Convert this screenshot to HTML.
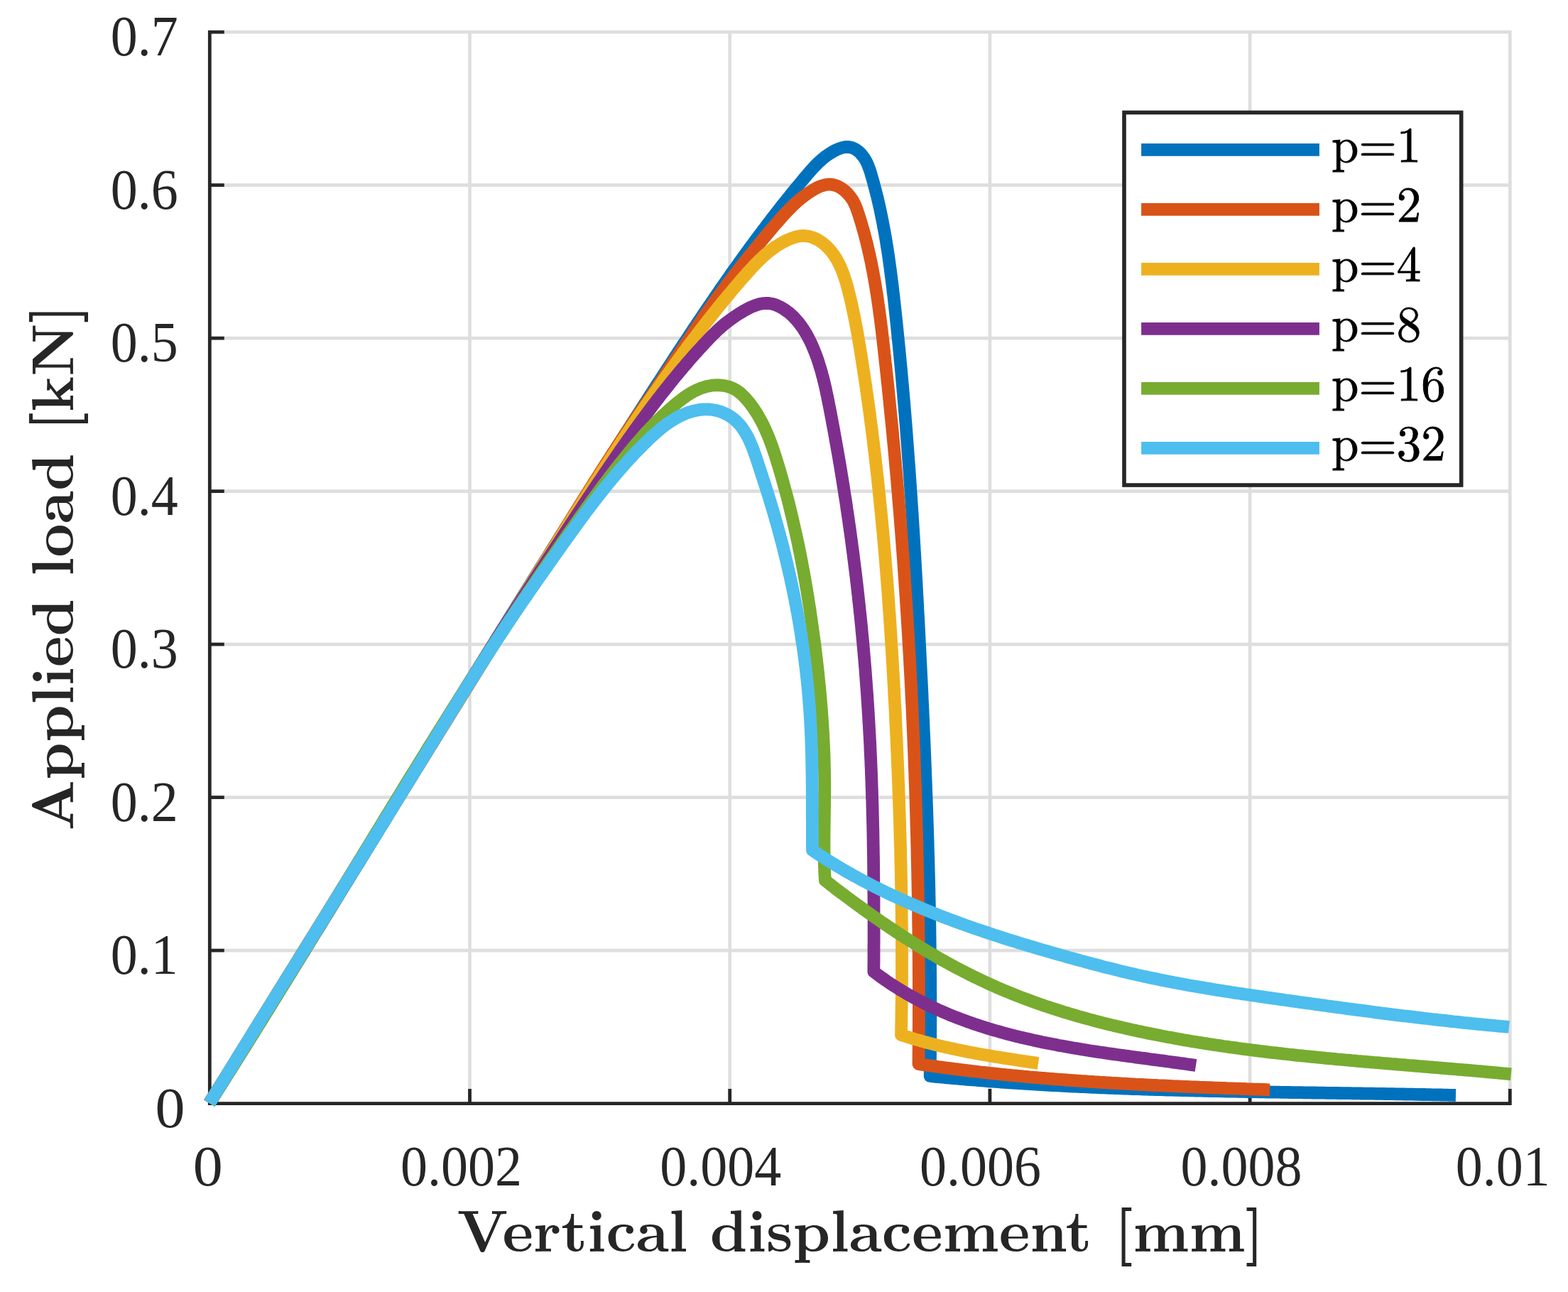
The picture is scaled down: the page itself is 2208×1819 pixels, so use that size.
<!DOCTYPE html><html><head><meta charset="utf-8"><title>Applied load vs vertical displacement</title>
<style>html,body{margin:0;padding:0;background:#fff;overflow:hidden}svg{display:block}</style></head><body>
<svg width="2208" height="1819" viewBox="0 0 2208 1819">
<rect width="2208" height="1819" fill="#fff"/>
<path d="M295.3,1338.1 H2128.7 M295.3,1122.6 H2128.7 M295.3,907.1 H2128.7 M295.3,691.6 H2128.7 M295.3,476.1 H2128.7 M295.3,260.6 H2128.7 M295.3,45.1 H2128.7 M661.5,1553.6 V42.7 M1027.7,1553.6 V42.7 M1393.9,1553.6 V42.7 M1760.1,1553.6 V42.7 M2126.3,1553.6 V42.7" stroke="#dedede" stroke-width="4.7" fill="none"/>
<path d="M295.3,42.7 V1556.0 M292.9,1553.6 H2128.7 M295.3,1553.6 H315.8 M295.3,1338.1 H315.8 M295.3,1122.6 H315.8 M295.3,907.1 H315.8 M295.3,691.6 H315.8 M295.3,476.1 H315.8 M295.3,260.6 H315.8 M295.3,45.1 H315.8 M295.3,1553.6 V1533.1 M661.5,1553.6 V1533.1 M1027.7,1553.6 V1533.1 M1393.9,1553.6 V1533.1 M1760.1,1553.6 V1533.1 M2126.3,1553.6 V1533.1" stroke="#262626" stroke-width="4.8" fill="none" stroke-linecap="butt"/>
<path d="M294.9,1553.1 L297.0,1549.7 L299.2,1546.3 L301.3,1542.9 L303.5,1539.5 L305.6,1536.1 L307.7,1532.7 L309.9,1529.4 L312.0,1526.0 L314.1,1522.6 L316.3,1519.2 L318.4,1515.8 L320.5,1512.4 L322.7,1509.0 L324.8,1505.6 L326.9,1502.2 L329.0,1498.8 L331.2,1495.4 L333.3,1492.0 L335.4,1488.6 L337.6,1485.2 L339.7,1481.8 L341.8,1478.4 L343.9,1475.0 L346.1,1471.6 L348.2,1468.2 L350.3,1464.8 L352.4,1461.4 L354.6,1458.0 L356.7,1454.6 L358.8,1451.2 L360.9,1447.8 L363.0,1444.4 L365.2,1441.0 L367.3,1437.6 L369.4,1434.2 L371.5,1430.8 L373.6,1427.4 L375.8,1424.0 L377.9,1420.6 L380.0,1417.2 L382.1,1413.8 L384.2,1410.4 L386.3,1407.0 L388.5,1403.5 L390.6,1400.1 L392.7,1396.7 L394.8,1393.3 L396.9,1389.9 L399.0,1386.5 L401.2,1383.1 L403.3,1379.7 L405.4,1376.3 L407.5,1372.9 L409.6,1369.5 L411.7,1366.1 L413.8,1362.7 L415.9,1359.2 L418.0,1355.8 L420.2,1352.4 L422.3,1349.0 L424.4,1345.6 L426.5,1342.2 L428.6,1338.8 L430.7,1335.4 L432.8,1332.0 L434.9,1328.6 L437.0,1325.1 L439.1,1321.7 L441.2,1318.3 L443.3,1314.9 L445.5,1311.5 L447.6,1308.1 L449.7,1304.7 L451.8,1301.3 L453.9,1297.8 L456.0,1294.4 L458.1,1291.0 L460.2,1287.6 L462.3,1284.2 L464.4,1280.8 L466.5,1277.4 L468.6,1273.9 L470.7,1270.5 L472.8,1267.1 L474.9,1263.7 L477.0,1260.3 L479.1,1256.9 L481.2,1253.5 L483.3,1250.0 L485.4,1246.6 L487.5,1243.2 L489.6,1239.8 L491.7,1236.4 L493.8,1233.0 L495.9,1229.5 L498.0,1226.1 L500.1,1222.7 L502.2,1219.3 L504.4,1215.9 L506.5,1212.5 L508.6,1209.0 L510.7,1205.6 L512.8,1202.2 L514.9,1198.8 L517.0,1195.4 L519.1,1192.0 L521.2,1188.5 L523.3,1185.1 L525.4,1181.7 L527.5,1178.3 L529.6,1174.9 L531.7,1171.5 L533.8,1168.0 L535.9,1164.6 L538.0,1161.2 L540.1,1157.8 L542.2,1154.4 L544.3,1151.0 L546.4,1147.5 L548.5,1144.1 L550.6,1140.7 L552.6,1137.3 L554.7,1133.9 L556.8,1130.4 L558.9,1127.0 L561.0,1123.6 L563.1,1120.2 L565.2,1116.8 L567.3,1113.4 L569.4,1109.9 L571.5,1106.5 L573.6,1103.1 L575.7,1099.7 L577.8,1096.3 L579.9,1092.9 L582.0,1089.4 L584.1,1086.0 L586.2,1082.6 L588.3,1079.2 L590.4,1075.8 L592.5,1072.4 L594.6,1068.9 L596.7,1065.5 L598.8,1062.1 L600.9,1058.7 L603.0,1055.3 L605.1,1051.9 L607.3,1048.4 L609.4,1045.0 L611.5,1041.6 L613.6,1038.2 L615.7,1034.8 L617.8,1031.4 L619.9,1027.9 L622.0,1024.5 L624.1,1021.1 L626.2,1017.7 L628.3,1014.3 L630.4,1010.9 L632.5,1007.4 L634.6,1004.0 L636.7,1000.6 L638.8,997.2 L640.9,993.8 L643.0,990.4 L645.1,987.0 L647.2,983.5 L649.3,980.1 L651.4,976.7 L653.5,973.3 L655.6,969.9 L657.7,966.5 L659.8,963.1 L661.9,959.6 L664.0,956.2 L666.2,952.8 L668.3,949.4 L670.4,946.0 L672.5,942.6 L674.6,939.2 L676.7,935.8 L678.8,932.3 L680.9,928.9 L683.0,925.5 L685.1,922.1 L687.2,918.7 L689.4,915.3 L691.5,911.9 L693.6,908.5 L695.7,905.1 L697.8,901.7 L699.9,898.2 L702.0,894.8 L704.1,891.4 L706.2,888.0 L708.4,884.6 L710.5,881.2 L712.6,877.8 L714.7,874.4 L716.8,871.0 L718.9,867.6 L721.0,864.2 L723.2,860.8 L725.3,857.4 L727.4,853.9 L729.5,850.5 L731.6,847.1 L733.8,843.7 L735.9,840.3 L738.0,836.9 L740.1,833.5 L742.2,830.1 L744.3,826.7 L746.5,823.3 L748.6,819.9 L750.7,816.5 L752.8,813.1 L755.0,809.7 L757.1,806.3 L759.2,802.9 L761.3,799.5 L763.5,796.1 L765.6,792.7 L767.7,789.3 L769.8,785.9 L772.0,782.5 L774.1,779.1 L776.2,775.7 L778.3,772.3 L780.5,768.9 L782.6,765.5 L784.7,762.1 L786.9,758.7 L789.0,755.3 L791.1,751.9 L793.3,748.5 L795.4,745.1 L797.5,741.7 L799.7,738.3 L801.8,734.9 L803.9,731.5 L806.1,728.2 L808.2,724.8 L810.4,721.4 L812.5,718.0 L814.6,714.6 L816.8,711.2 L818.9,707.8 L821.1,704.4 L823.2,701.0 L825.3,697.6 L827.5,694.2 L829.6,690.9 L831.8,687.5 L833.9,684.1 L836.1,680.7 L838.2,677.3 L840.4,673.9 L842.5,670.5 L844.6,667.1 L846.8,663.8 L848.9,660.4 L851.1,657.0 L853.2,653.6 L855.4,650.2 L857.6,646.8 L859.7,643.5 L861.9,640.1 L864.0,636.7 L866.2,633.3 L868.3,629.9 L870.5,626.6 L872.6,623.2 L874.8,619.8 L877.0,616.4 L879.1,613.1 L881.3,609.7 L883.5,606.3 L885.6,602.9 L887.8,599.6 L889.9,596.2 L892.1,592.8 L894.3,589.4 L896.4,586.1 L898.6,582.7 L900.8,579.3 L903.0,575.9 L905.1,572.6 L907.3,569.2 L909.5,565.8 L911.6,562.5 L913.8,559.1 L916.0,555.7 L918.2,552.4 L920.3,549.0 L922.5,545.6 L924.7,542.3 L926.9,538.9 L929.1,535.5 L931.2,532.2 L933.4,528.8 L935.6,525.5 L937.8,522.1 L940.0,518.7 L942.2,515.4 L944.4,512.0 L946.5,508.7 L948.7,505.3 L950.9,501.9 L953.1,498.6 L955.3,495.2 L957.5,491.9 L959.7,488.5 L961.9,485.2 L964.1,481.8 L966.4,478.5 L968.6,475.2 L970.8,471.8 L973.0,468.5 L975.2,465.1 L977.4,461.8 L979.7,458.5 L981.9,455.1 L984.1,451.8 L986.4,448.5 L988.6,445.2 L990.8,441.8 L993.1,438.5 L995.3,435.2 L997.6,431.9 L999.8,428.6 L1002.1,425.3 L1004.4,422.0 L1006.6,418.6 L1008.9,415.3 L1011.2,412.0 L1013.4,408.7 L1015.7,405.4 L1018.0,402.2 L1020.3,398.9 L1022.6,395.6 L1024.9,392.3 L1027.2,389.0 L1029.5,385.7 L1031.8,382.5 L1034.1,379.2 L1036.5,375.9 L1038.8,372.7 L1041.1,369.4 L1043.5,366.2 L1045.8,362.9 L1048.2,359.7 L1050.5,356.4 L1052.9,353.2 L1055.2,349.9 L1057.6,346.7 L1060.0,343.5 L1062.4,340.2 L1064.7,337.0 L1067.1,333.8 L1069.5,330.6 L1072.0,327.4 L1074.4,324.2 L1076.8,321.0 L1079.2,317.8 L1081.6,314.6 L1084.1,311.4 L1086.5,308.2 L1089.0,305.0 L1091.4,301.9 L1093.9,298.7 L1096.4,295.5 L1098.9,292.4 L1101.3,289.2 L1103.8,286.1 L1106.3,282.9 L1108.8,279.8 L1111.4,276.7 L1113.9,273.5 L1116.4,270.4 L1119.0,267.3 L1121.5,264.2 L1124.1,261.1 L1126.6,258.0 L1129.2,254.9 L1131.8,251.8 L1134.4,248.7 L1137.0,245.6 L1139.6,242.6 L1142.2,239.6 L1144.9,236.6 L1147.7,233.7 L1150.5,230.8 L1153.4,228.1 L1156.3,225.4 L1159.4,222.8 L1162.5,220.3 L1165.8,218.0 L1169.1,215.7 L1172.6,213.7 L1176.3,211.7 L1180.0,210.0 L1183.8,208.5 L1187.7,207.5 L1191.5,206.9 L1195.3,207.0 L1198.9,207.7 L1202.4,209.0 L1205.7,210.8 L1208.8,213.1 L1211.7,215.8 L1214.3,218.8 L1216.7,222.0 L1218.8,225.4 L1220.7,229.0 L1222.3,232.6 L1223.7,236.4 L1225.1,240.2 L1226.3,244.1 L1227.4,248.1 L1228.6,252.0 L1229.7,255.9 L1230.7,259.8 L1231.8,263.8 L1232.8,267.7 L1233.8,271.6 L1234.8,275.5 L1235.8,279.5 L1236.7,283.4 L1237.6,287.3 L1238.5,291.3 L1239.4,295.2 L1240.2,299.2 L1241.0,303.1 L1241.8,307.1 L1242.6,311.0 L1243.4,315.0 L1244.1,318.9 L1244.9,322.9 L1245.6,326.8 L1246.3,330.8 L1247.0,334.7 L1247.7,338.7 L1248.3,342.6 L1248.9,346.6 L1249.6,350.5 L1250.2,354.5 L1250.8,358.5 L1251.4,362.4 L1251.9,366.4 L1252.5,370.4 L1253.0,374.3 L1253.6,378.3 L1254.1,382.3 L1254.6,386.2 L1255.1,390.2 L1255.6,394.2 L1256.1,398.1 L1256.6,402.1 L1257.1,406.1 L1257.5,410.1 L1258.0,414.0 L1258.5,418.0 L1258.9,422.0 L1259.4,426.0 L1259.8,430.0 L1260.2,433.9 L1260.7,437.9 L1261.1,441.9 L1261.5,445.9 L1261.9,449.9 L1262.4,453.8 L1262.8,457.8 L1263.2,461.8 L1263.6,465.8 L1264.0,469.8 L1264.4,473.7 L1264.8,477.7 L1265.2,481.7 L1265.6,485.7 L1266.0,489.7 L1266.4,493.7 L1266.8,497.7 L1267.2,501.6 L1267.5,505.6 L1267.9,509.6 L1268.3,513.6 L1268.7,517.6 L1269.0,521.6 L1269.4,525.6 L1269.8,529.6 L1270.1,533.6 L1270.5,537.6 L1270.8,541.5 L1271.2,545.5 L1271.5,549.5 L1271.9,553.5 L1272.2,557.5 L1272.6,561.5 L1272.9,565.5 L1273.3,569.5 L1273.6,573.5 L1273.9,577.5 L1274.3,581.5 L1274.6,585.5 L1274.9,589.5 L1275.2,593.5 L1275.6,597.5 L1275.9,601.5 L1276.2,605.5 L1276.5,609.5 L1276.8,613.5 L1277.1,617.5 L1277.4,621.5 L1277.7,625.5 L1278.0,629.5 L1278.3,633.5 L1278.6,637.4 L1278.9,641.4 L1279.2,645.5 L1279.5,649.5 L1279.8,653.5 L1280.1,657.5 L1280.4,661.5 L1280.7,665.5 L1281.0,669.5 L1281.2,673.5 L1281.5,677.5 L1281.8,681.5 L1282.1,685.5 L1282.3,689.5 L1282.6,693.5 L1282.9,697.5 L1283.2,701.5 L1283.4,705.5 L1283.7,709.5 L1283.9,713.5 L1284.2,717.5 L1284.5,721.5 L1284.7,725.5 L1285.0,729.5 L1285.2,733.5 L1285.5,737.5 L1285.7,741.5 L1286.0,745.5 L1286.2,749.5 L1286.5,753.5 L1286.7,757.5 L1287.0,761.6 L1287.2,765.6 L1287.5,769.6 L1287.7,773.6 L1287.9,777.6 L1288.2,781.6 L1288.4,785.6 L1288.6,789.6 L1288.9,793.6 L1289.1,797.6 L1289.3,801.6 L1289.6,805.6 L1289.8,809.6 L1290.0,813.6 L1290.2,817.6 L1290.5,821.6 L1290.7,825.7 L1290.9,829.7 L1291.1,833.7 L1291.3,837.7 L1291.6,841.7 L1291.8,845.7 L1292.0,849.7 L1292.2,853.7 L1292.4,857.7 L1292.6,861.7 L1292.8,865.7 L1293.1,869.7 L1293.3,873.7 L1293.5,877.7 L1293.7,881.8 L1293.9,885.8 L1294.1,889.8 L1294.3,893.8 L1294.5,897.8 L1294.7,901.8 L1294.9,905.8 L1295.1,909.8 L1295.3,913.8 L1295.5,917.8 L1295.7,921.8 L1295.9,925.8 L1296.1,929.8 L1296.3,933.8 L1296.5,937.8 L1296.7,941.8 L1296.9,945.8 L1297.1,949.9 L1297.3,953.9 L1297.5,957.9 L1297.7,961.9 L1297.9,965.9 L1298.1,969.9 L1298.3,973.9 L1298.5,977.9 L1298.6,981.9 L1298.8,985.9 L1299.0,989.9 L1299.2,993.9 L1299.4,997.9 L1299.6,1001.9 L1299.7,1005.9 L1299.9,1009.9 L1300.1,1013.9 L1300.3,1017.9 L1300.5,1021.9 L1300.6,1026.0 L1300.8,1030.0 L1301.0,1034.0 L1301.2,1038.0 L1301.3,1042.0 L1301.5,1046.0 L1301.7,1050.0 L1301.8,1054.0 L1302.0,1058.0 L1302.2,1062.0 L1302.3,1066.0 L1302.5,1070.0 L1302.6,1074.0 L1302.8,1078.0 L1303.0,1082.0 L1303.1,1086.0 L1303.3,1090.0 L1303.4,1094.0 L1303.6,1098.0 L1303.7,1102.0 L1303.9,1106.0 L1304.0,1110.1 L1304.2,1114.1 L1304.3,1118.1 L1304.5,1122.1 L1304.6,1126.1 L1304.8,1130.1 L1304.9,1134.1 L1305.0,1138.1 L1305.2,1142.1 L1305.3,1146.1 L1305.4,1150.1 L1305.6,1154.1 L1305.7,1158.1 L1305.8,1162.1 L1306.0,1166.1 L1306.1,1170.1 L1306.2,1174.1 L1306.3,1178.1 L1306.5,1182.1 L1306.6,1186.2 L1306.7,1190.2 L1306.8,1194.2 L1306.9,1198.2 L1307.0,1202.2 L1307.2,1206.2 L1307.3,1210.2 L1307.4,1214.2 L1307.5,1218.2 L1307.6,1222.2 L1307.7,1226.2 L1307.8,1230.2 L1307.9,1234.2 L1308.0,1238.2 L1308.1,1242.2 L1308.2,1246.2 L1308.3,1250.3 L1308.4,1254.3 L1308.4,1258.3 L1308.5,1262.3 L1308.6,1266.3 L1308.7,1270.3 L1308.8,1274.3 L1308.9,1278.3 L1308.9,1282.3 L1309.0,1286.3 L1309.1,1290.3 L1309.2,1294.3 L1309.2,1298.3 L1309.3,1302.4 L1309.4,1306.4 L1309.4,1310.4 L1309.5,1314.4 L1309.5,1318.4 L1309.6,1322.4 L1309.6,1326.4 L1309.7,1330.4 L1309.7,1334.4 L1309.8,1338.4 L1309.8,1342.4 L1309.9,1346.5 L1309.9,1350.5 L1310.0,1354.5 L1310.0,1358.5 L1310.0,1362.5 L1310.1,1366.5 L1310.1,1370.5 L1310.1,1374.5 L1310.2,1378.5 L1310.2,1382.5 L1310.2,1386.6 L1310.2,1390.6 L1310.2,1394.6 L1310.3,1398.6 L1310.3,1402.6 L1310.3,1406.6 L1310.3,1410.6 L1310.3,1414.6 L1310.3,1418.6 L1310.3,1422.7 L1310.3,1426.7 L1310.3,1430.7 L1310.3,1434.7 L1310.3,1438.7 L1310.3,1442.7 L1310.2,1446.7 L1310.2,1450.8 L1310.2,1454.8 L1310.2,1458.8 L1310.2,1462.8 L1310.1,1466.8 L1310.1,1470.8 L1310.1,1474.8 L1310.0,1478.9 L1310.0,1482.9 L1310.0,1486.9 L1309.9,1490.9 L1309.9,1494.9 L1309.8,1498.9 L1309.8,1502.9 L1309.7,1507.0 L1309.7,1511.0 L1309.6,1515.0 L1309.6,1515.0 L1313.6,1515.4 L1317.6,1515.8 L1321.6,1516.2 L1325.6,1516.5 L1329.7,1516.9 L1333.7,1517.3 L1337.7,1517.7 L1341.7,1518.0 L1345.7,1518.4 L1349.7,1518.7 L1353.7,1519.1 L1357.7,1519.4 L1361.8,1519.8 L1365.8,1520.1 L1369.8,1520.4 L1373.8,1520.7 L1377.8,1521.1 L1381.8,1521.4 L1385.8,1521.7 L1389.9,1522.0 L1393.9,1522.3 L1397.9,1522.6 L1401.9,1522.9 L1405.9,1523.2 L1409.9,1523.5 L1414.0,1523.8 L1418.0,1524.0 L1422.0,1524.3 L1426.0,1524.6 L1430.0,1524.9 L1434.0,1525.1 L1438.1,1525.4 L1442.1,1525.6 L1446.1,1525.9 L1450.1,1526.1 L1454.1,1526.4 L1458.2,1526.6 L1462.2,1526.9 L1466.2,1527.1 L1470.2,1527.3 L1474.2,1527.6 L1478.3,1527.8 L1482.3,1528.0 L1486.3,1528.2 L1490.3,1528.4 L1494.3,1528.7 L1498.4,1528.9 L1502.4,1529.1 L1506.4,1529.3 L1510.4,1529.5 L1514.5,1529.7 L1518.5,1529.9 L1522.5,1530.0 L1526.5,1530.2 L1530.5,1530.4 L1534.6,1530.6 L1538.6,1530.8 L1542.6,1530.9 L1546.6,1531.1 L1550.7,1531.3 L1554.7,1531.4 L1558.7,1531.6 L1562.7,1531.8 L1566.8,1531.9 L1570.8,1532.1 L1574.8,1532.2 L1578.8,1532.4 L1582.9,1532.5 L1586.9,1532.7 L1590.9,1532.8 L1594.9,1533.0 L1599.0,1533.1 L1603.0,1533.2 L1607.0,1533.4 L1611.0,1533.5 L1615.1,1533.6 L1619.1,1533.8 L1623.1,1533.9 L1627.1,1534.0 L1631.2,1534.1 L1635.2,1534.2 L1639.2,1534.4 L1643.2,1534.5 L1647.3,1534.6 L1651.3,1534.7 L1655.3,1534.8 L1659.4,1534.9 L1663.4,1535.0 L1667.4,1535.1 L1671.4,1535.2 L1675.5,1535.3 L1679.5,1535.4 L1683.5,1535.5 L1687.5,1535.6 L1691.6,1535.7 L1695.6,1535.8 L1699.6,1535.9 L1703.7,1536.0 L1707.7,1536.1 L1711.7,1536.1 L1715.7,1536.2 L1719.8,1536.3 L1723.8,1536.4 L1727.8,1536.5 L1731.8,1536.5 L1735.9,1536.6 L1739.9,1536.7 L1743.9,1536.8 L1748.0,1536.9 L1752.0,1536.9 L1756.0,1537.0 L1760.0,1537.1 L1764.1,1537.1 L1768.1,1537.2 L1772.1,1537.3 L1776.2,1537.3 L1780.2,1537.4 L1784.2,1537.5 L1788.2,1537.5 L1792.3,1537.6 L1796.3,1537.7 L1800.3,1537.7 L1804.4,1537.8 L1808.4,1537.9 L1812.4,1537.9 L1816.4,1538.0 L1820.5,1538.1 L1824.5,1538.1 L1828.5,1538.2 L1832.6,1538.2 L1836.6,1538.3 L1840.6,1538.4 L1844.6,1538.4 L1848.7,1538.5 L1852.7,1538.5 L1856.7,1538.6 L1860.8,1538.7 L1864.8,1538.7 L1868.8,1538.8 L1872.8,1538.8 L1876.9,1538.9 L1880.9,1538.9 L1884.9,1539.0 L1889.0,1539.1 L1893.0,1539.1 L1897.0,1539.2 L1901.0,1539.2 L1905.1,1539.3 L1909.1,1539.4 L1913.1,1539.4 L1917.1,1539.5 L1921.2,1539.6 L1925.2,1539.6 L1929.2,1539.7 L1933.3,1539.7 L1937.3,1539.8 L1941.3,1539.9 L1945.3,1539.9 L1949.4,1540.0 L1953.4,1540.1 L1957.4,1540.1 L1961.4,1540.2 L1965.5,1540.3 L1969.5,1540.4 L1973.5,1540.4 L1977.6,1540.5 L1981.6,1540.6 L1985.6,1540.6 L1989.6,1540.7 L1993.7,1540.8 L1997.7,1540.9 L2001.7,1541.0 L2005.7,1541.0 L2009.8,1541.1 L2013.8,1541.2 L2017.8,1541.3 L2021.8,1541.4 L2025.9,1541.4 L2029.9,1541.5 L2033.9,1541.6 L2037.9,1541.7 L2042.0,1541.8 L2046.0,1541.9 L2050.0,1542.0" stroke="#0072bd" stroke-width="17.8" fill="none" stroke-linejoin="round" stroke-linecap="butt"/>
<path d="M294.9,1553.1 L297.0,1549.7 L299.1,1546.3 L301.2,1542.9 L303.3,1539.5 L305.4,1536.0 L307.5,1532.6 L309.6,1529.2 L311.7,1525.8 L313.8,1522.4 L316.0,1519.0 L318.1,1515.6 L320.2,1512.2 L322.3,1508.8 L324.4,1505.4 L326.5,1502.0 L328.6,1498.5 L330.7,1495.1 L332.8,1491.7 L334.9,1488.3 L337.0,1484.9 L339.1,1481.5 L341.2,1478.1 L343.3,1474.7 L345.5,1471.3 L347.6,1467.9 L349.7,1464.5 L351.8,1461.1 L353.9,1457.7 L356.0,1454.2 L358.1,1450.8 L360.2,1447.4 L362.3,1444.0 L364.4,1440.6 L366.5,1437.2 L368.6,1433.8 L370.8,1430.4 L372.9,1427.0 L375.0,1423.6 L377.1,1420.2 L379.2,1416.8 L381.3,1413.4 L383.4,1410.0 L385.5,1406.5 L387.6,1403.1 L389.7,1399.7 L391.8,1396.3 L394.0,1392.9 L396.1,1389.5 L398.2,1386.1 L400.3,1382.7 L402.4,1379.3 L404.5,1375.9 L406.6,1372.5 L408.7,1369.1 L410.8,1365.7 L413.0,1362.3 L415.1,1358.9 L417.2,1355.5 L419.3,1352.1 L421.4,1348.6 L423.5,1345.2 L425.6,1341.8 L427.7,1338.4 L429.8,1335.0 L431.9,1331.6 L434.1,1328.2 L436.2,1324.8 L438.3,1321.4 L440.4,1318.0 L442.5,1314.6 L444.6,1311.2 L446.7,1307.8 L448.8,1304.4 L451.0,1301.0 L453.1,1297.6 L455.2,1294.2 L457.3,1290.8 L459.4,1287.4 L461.5,1284.0 L463.6,1280.5 L465.7,1277.1 L467.8,1273.7 L470.0,1270.3 L472.1,1266.9 L474.2,1263.5 L476.3,1260.1 L478.4,1256.7 L480.5,1253.3 L482.6,1249.9 L484.7,1246.5 L486.9,1243.1 L489.0,1239.7 L491.1,1236.3 L493.2,1232.9 L495.3,1229.5 L497.4,1226.1 L499.5,1222.7 L501.6,1219.3 L503.8,1215.9 L505.9,1212.5 L508.0,1209.1 L510.1,1205.7 L512.2,1202.3 L514.3,1198.8 L516.4,1195.4 L518.5,1192.0 L520.7,1188.6 L522.8,1185.2 L524.9,1181.8 L527.0,1178.4 L529.1,1175.0 L531.2,1171.6 L533.3,1168.2 L535.4,1164.8 L537.6,1161.4 L539.7,1158.0 L541.8,1154.6 L543.9,1151.2 L546.0,1147.8 L548.1,1144.4 L550.2,1141.0 L552.3,1137.6 L554.5,1134.2 L556.6,1130.8 L558.7,1127.4 L560.8,1124.0 L562.9,1120.6 L565.0,1117.2 L567.1,1113.7 L569.2,1110.3 L571.4,1106.9 L573.5,1103.5 L575.6,1100.1 L577.7,1096.7 L579.8,1093.3 L581.9,1089.9 L584.0,1086.5 L586.1,1083.1 L588.3,1079.7 L590.4,1076.3 L592.5,1072.9 L594.6,1069.5 L596.7,1066.1 L598.8,1062.7 L600.9,1059.3 L603.0,1055.9 L605.2,1052.5 L607.3,1049.1 L609.4,1045.7 L611.5,1042.3 L613.6,1038.9 L615.7,1035.5 L617.8,1032.0 L619.9,1028.6 L622.1,1025.2 L624.2,1021.8 L626.3,1018.4 L628.4,1015.0 L630.5,1011.6 L632.6,1008.2 L634.7,1004.8 L636.8,1001.4 L639.0,998.0 L641.1,994.6 L643.2,991.2 L645.3,987.8 L647.4,984.4 L649.5,981.0 L651.6,977.6 L653.7,974.2 L655.8,970.8 L658.0,967.4 L660.1,963.9 L662.2,960.5 L664.3,957.1 L666.4,953.7 L668.5,950.3 L670.6,946.9 L672.7,943.5 L674.8,940.1 L676.9,936.7 L679.1,933.3 L681.2,929.9 L683.3,926.5 L685.4,923.1 L687.5,919.7 L689.6,916.3 L691.7,912.9 L693.8,909.4 L695.9,906.0 L698.1,902.6 L700.2,899.2 L702.3,895.8 L704.4,892.4 L706.5,889.0 L708.6,885.6 L710.7,882.2 L712.8,878.8 L714.9,875.4 L717.0,872.0 L719.1,868.6 L721.3,865.2 L723.4,861.7 L725.5,858.3 L727.6,854.9 L729.7,851.5 L731.8,848.1 L733.9,844.7 L736.0,841.3 L738.1,837.9 L740.2,834.5 L742.3,831.1 L744.4,827.7 L746.5,824.3 L748.7,820.8 L750.8,817.4 L752.9,814.0 L755.0,810.6 L757.1,807.2 L759.2,803.8 L761.3,800.4 L763.4,797.0 L765.5,793.6 L767.6,790.2 L769.7,786.8 L771.8,783.3 L773.9,779.9 L776.0,776.5 L778.1,773.1 L780.3,769.7 L782.4,766.3 L784.5,762.9 L786.6,759.5 L788.7,756.1 L790.8,752.7 L792.9,749.2 L795.0,745.8 L797.1,742.4 L799.2,739.0 L801.3,735.6 L803.4,732.2 L805.6,728.8 L807.7,725.4 L809.8,722.0 L811.9,718.6 L814.0,715.2 L816.1,711.8 L818.3,708.4 L820.4,705.0 L822.5,701.6 L824.6,698.2 L826.8,694.8 L828.9,691.4 L831.0,688.0 L833.2,684.6 L835.3,681.2 L837.4,677.9 L839.6,674.5 L841.7,671.1 L843.9,667.7 L846.0,664.3 L848.2,660.9 L850.3,657.6 L852.5,654.2 L854.7,650.8 L856.8,647.5 L859.0,644.1 L861.2,640.7 L863.3,637.4 L865.5,634.0 L867.7,630.6 L869.9,627.3 L872.1,623.9 L874.3,620.6 L876.5,617.2 L878.7,613.9 L880.9,610.6 L883.1,607.2 L885.3,603.9 L887.5,600.5 L889.7,597.2 L892.0,593.9 L894.2,590.6 L896.4,587.3 L898.7,583.9 L900.9,580.6 L903.2,577.3 L905.4,574.0 L907.7,570.7 L909.9,567.4 L912.2,564.1 L914.5,560.8 L916.8,557.5 L919.1,554.2 L921.3,550.9 L923.6,547.7 L925.8,544.3 L928.0,541.0 L930.2,537.7 L932.4,534.3 L934.5,531.0 L936.6,527.6 L938.7,524.2 L940.9,520.9 L943.1,517.6 L945.3,514.3 L947.5,511.0 L949.8,507.7 L952.1,504.4 L954.3,501.1 L956.6,497.8 L958.8,494.5 L961.1,491.2 L963.3,487.9 L965.5,484.5 L967.7,481.2 L970.0,477.8 L972.2,474.5 L974.4,471.1 L976.6,467.8 L978.8,464.4 L981.1,461.1 L983.3,457.7 L985.5,454.4 L987.8,451.1 L990.0,447.7 L992.3,444.4 L994.6,441.1 L996.9,437.8 L999.1,434.5 L1001.5,431.3 L1003.8,428.0 L1006.1,424.7 L1008.4,421.5 L1010.8,418.2 L1013.1,415.0 L1015.5,411.8 L1017.9,408.6 L1020.3,405.3 L1022.6,402.1 L1025.0,398.9 L1027.5,395.8 L1029.9,392.6 L1032.3,389.4 L1034.7,386.2 L1037.2,383.1 L1039.6,379.9 L1042.1,376.8 L1044.6,373.6 L1047.0,370.5 L1049.5,367.3 L1052.0,364.2 L1054.5,361.1 L1057.0,358.0 L1059.6,354.9 L1062.1,351.8 L1064.6,348.7 L1067.2,345.6 L1069.7,342.5 L1072.3,339.4 L1074.8,336.3 L1077.4,333.2 L1080.0,330.2 L1082.5,327.1 L1085.1,324.0 L1087.7,321.0 L1090.3,317.9 L1092.9,314.9 L1095.6,311.8 L1098.2,308.8 L1100.9,305.8 L1103.6,302.8 L1106.3,299.8 L1109.1,296.9 L1111.9,294.0 L1114.7,291.2 L1117.6,288.4 L1120.6,285.7 L1123.6,283.0 L1126.7,280.4 L1129.8,277.9 L1133.0,275.4 L1136.3,273.0 L1139.7,270.7 L1143.2,268.5 L1146.8,266.4 L1150.4,264.4 L1154.1,262.7 L1157.8,261.3 L1161.6,260.3 L1165.4,259.7 L1169.2,259.6 L1173.0,260.1 L1176.7,261.1 L1180.4,262.6 L1184.0,264.5 L1187.4,266.9 L1190.7,269.6 L1193.7,272.6 L1196.5,275.9 L1199.1,279.3 L1201.3,282.8 L1203.2,286.5 L1204.9,290.2 L1206.4,294.0 L1207.7,297.8 L1209.0,301.6 L1210.2,305.4 L1211.4,309.2 L1212.6,313.1 L1213.7,316.9 L1214.8,320.8 L1215.9,324.6 L1217.0,328.5 L1218.0,332.4 L1219.0,336.2 L1220.0,340.1 L1221.0,344.0 L1221.9,347.9 L1222.8,351.8 L1223.7,355.7 L1224.6,359.6 L1225.4,363.5 L1226.3,367.4 L1227.1,371.3 L1227.8,375.2 L1228.6,379.1 L1229.4,383.1 L1230.1,387.0 L1230.8,390.9 L1231.5,394.9 L1232.2,398.8 L1232.9,402.8 L1233.5,406.7 L1234.1,410.6 L1234.8,414.6 L1235.4,418.6 L1236.0,422.5 L1236.5,426.5 L1237.1,430.4 L1237.7,434.4 L1238.2,438.4 L1238.7,442.3 L1239.3,446.3 L1239.8,450.3 L1240.3,454.3 L1240.8,458.2 L1241.3,462.2 L1241.8,466.2 L1242.2,470.2 L1242.7,474.1 L1243.2,478.1 L1243.6,482.1 L1244.1,486.1 L1244.5,490.1 L1245.0,494.1 L1245.4,498.0 L1245.9,502.0 L1246.3,506.0 L1246.7,510.0 L1247.2,514.0 L1247.6,518.0 L1248.0,522.0 L1248.5,525.9 L1248.9,529.9 L1249.3,533.9 L1249.7,537.9 L1250.2,541.9 L1250.6,545.9 L1251.0,549.9 L1251.4,553.9 L1251.8,557.8 L1252.2,561.8 L1252.6,565.8 L1253.0,569.8 L1253.4,573.8 L1253.8,577.8 L1254.2,581.8 L1254.6,585.8 L1255.0,589.7 L1255.4,593.7 L1255.8,597.7 L1256.2,601.7 L1256.6,605.7 L1257.0,609.7 L1257.3,613.7 L1257.7,617.7 L1258.1,621.7 L1258.5,625.6 L1258.9,629.6 L1259.2,633.6 L1259.6,637.6 L1260.0,641.6 L1260.3,645.6 L1260.7,649.6 L1261.0,653.6 L1261.4,657.6 L1261.8,661.6 L1262.1,665.6 L1262.5,669.6 L1262.8,673.5 L1263.2,677.5 L1263.5,681.5 L1263.9,685.5 L1264.2,689.5 L1264.5,693.5 L1264.9,697.5 L1265.2,701.5 L1265.5,705.5 L1265.9,709.5 L1266.2,713.5 L1266.5,717.5 L1266.9,721.5 L1267.2,725.4 L1267.5,729.4 L1267.8,733.4 L1268.1,737.4 L1268.5,741.4 L1268.8,745.4 L1269.1,749.4 L1269.4,753.4 L1269.7,757.4 L1270.0,761.4 L1270.3,765.4 L1270.6,769.4 L1270.9,773.4 L1271.2,777.4 L1271.5,781.4 L1271.8,785.4 L1272.1,789.4 L1272.4,793.4 L1272.7,797.4 L1272.9,801.4 L1273.2,805.4 L1273.5,809.3 L1273.8,813.3 L1274.1,817.3 L1274.3,821.3 L1274.6,825.3 L1274.9,829.3 L1275.1,833.3 L1275.4,837.3 L1275.7,841.3 L1275.9,845.3 L1276.2,849.3 L1276.5,853.3 L1276.7,857.3 L1277.0,861.3 L1277.2,865.3 L1277.5,869.3 L1277.7,873.3 L1278.0,877.3 L1278.2,881.3 L1278.5,885.3 L1278.7,889.3 L1278.9,893.3 L1279.2,897.3 L1279.4,901.3 L1279.6,905.3 L1279.9,909.3 L1280.1,913.3 L1280.3,917.3 L1280.6,921.3 L1280.8,925.3 L1281.0,929.3 L1281.2,933.3 L1281.4,937.3 L1281.6,941.3 L1281.9,945.3 L1282.1,949.3 L1282.3,953.3 L1282.5,957.3 L1282.7,961.3 L1282.9,965.3 L1283.1,969.3 L1283.3,973.3 L1283.5,977.3 L1283.7,981.3 L1283.9,985.3 L1284.1,989.3 L1284.3,993.3 L1284.5,997.3 L1284.6,1001.3 L1284.8,1005.3 L1285.0,1009.3 L1285.2,1013.3 L1285.4,1017.3 L1285.5,1021.3 L1285.7,1025.3 L1285.9,1029.3 L1286.1,1033.3 L1286.2,1037.3 L1286.4,1041.3 L1286.6,1045.3 L1286.7,1049.3 L1286.9,1053.3 L1287.1,1057.3 L1287.2,1061.3 L1287.4,1065.3 L1287.5,1069.4 L1287.7,1073.4 L1287.8,1077.4 L1288.0,1081.4 L1288.1,1085.4 L1288.3,1089.4 L1288.4,1093.4 L1288.5,1097.4 L1288.7,1101.4 L1288.8,1105.4 L1289.0,1109.4 L1289.1,1113.4 L1289.2,1117.4 L1289.4,1121.4 L1289.5,1125.4 L1289.6,1129.4 L1289.7,1133.4 L1289.9,1137.4 L1290.0,1141.4 L1290.1,1145.4 L1290.2,1149.4 L1290.3,1153.4 L1290.4,1157.4 L1290.5,1161.4 L1290.7,1165.4 L1290.8,1169.5 L1290.9,1173.5 L1291.0,1177.5 L1291.1,1181.5 L1291.2,1185.5 L1291.3,1189.5 L1291.4,1193.5 L1291.5,1197.5 L1291.6,1201.5 L1291.6,1205.5 L1291.7,1209.5 L1291.8,1213.5 L1291.9,1217.5 L1292.0,1221.5 L1292.1,1225.5 L1292.2,1229.5 L1292.2,1233.5 L1292.3,1237.5 L1292.4,1241.5 L1292.5,1245.6 L1292.5,1249.6 L1292.6,1253.6 L1292.7,1257.6 L1292.7,1261.6 L1292.8,1265.6 L1292.9,1269.6 L1292.9,1273.6 L1293.0,1277.6 L1293.0,1281.6 L1293.1,1285.6 L1293.1,1289.6 L1293.2,1293.6 L1293.2,1297.6 L1293.3,1301.6 L1293.3,1305.6 L1293.4,1309.7 L1293.4,1313.7 L1293.5,1317.7 L1293.5,1321.7 L1293.5,1325.7 L1293.6,1329.7 L1293.6,1333.7 L1293.6,1337.7 L1293.7,1341.7 L1293.7,1345.7 L1293.7,1349.7 L1293.8,1353.7 L1293.8,1357.7 L1293.8,1361.7 L1293.8,1365.8 L1293.8,1369.8 L1293.9,1373.8 L1293.9,1377.8 L1293.9,1381.8 L1293.9,1385.8 L1293.9,1389.8 L1293.9,1393.8 L1293.9,1397.8 L1293.9,1401.8 L1293.9,1405.8 L1293.9,1409.8 L1293.9,1413.8 L1293.9,1417.8 L1293.9,1421.9 L1293.9,1425.9 L1293.9,1429.9 L1293.9,1433.9 L1293.9,1437.9 L1293.9,1441.9 L1293.8,1445.9 L1293.8,1449.9 L1293.8,1453.9 L1293.8,1457.9 L1293.8,1461.9 L1293.7,1465.9 L1293.7,1469.9 L1293.7,1474.0 L1293.7,1478.0 L1293.6,1482.0 L1293.6,1486.0 L1293.6,1490.0 L1293.5,1494.0 L1293.5,1498.0 L1293.5,1498.0 L1297.5,1498.6 L1301.5,1499.2 L1305.5,1499.8 L1309.5,1500.3 L1313.5,1500.9 L1317.5,1501.4 L1321.5,1502.0 L1325.5,1502.5 L1329.5,1503.1 L1333.5,1503.6 L1337.5,1504.1 L1341.5,1504.6 L1345.5,1505.2 L1349.5,1505.7 L1353.5,1506.2 L1357.5,1506.6 L1361.5,1507.1 L1365.5,1507.6 L1369.5,1508.1 L1373.5,1508.5 L1377.5,1509.0 L1381.5,1509.5 L1385.5,1509.9 L1389.5,1510.3 L1393.5,1510.8 L1397.5,1511.2 L1401.5,1511.6 L1405.6,1512.1 L1409.6,1512.5 L1413.6,1512.9 L1417.6,1513.3 L1421.6,1513.7 L1425.6,1514.1 L1429.6,1514.4 L1433.6,1514.8 L1437.7,1515.2 L1441.7,1515.6 L1445.7,1515.9 L1449.7,1516.3 L1453.7,1516.6 L1457.7,1517.0 L1461.8,1517.3 L1465.8,1517.7 L1469.8,1518.0 L1473.8,1518.3 L1477.8,1518.7 L1481.9,1519.0 L1485.9,1519.3 L1489.9,1519.6 L1493.9,1519.9 L1497.9,1520.2 L1502.0,1520.5 L1506.0,1520.8 L1510.0,1521.1 L1514.0,1521.4 L1518.1,1521.7 L1522.1,1522.0 L1526.1,1522.2 L1530.1,1522.5 L1534.2,1522.8 L1538.2,1523.0 L1542.2,1523.3 L1546.2,1523.5 L1550.3,1523.8 L1554.3,1524.0 L1558.3,1524.3 L1562.3,1524.5 L1566.4,1524.8 L1570.4,1525.0 L1574.4,1525.2 L1578.4,1525.5 L1582.5,1525.7 L1586.5,1525.9 L1590.5,1526.1 L1594.6,1526.3 L1598.6,1526.6 L1602.6,1526.8 L1606.6,1527.0 L1610.7,1527.2 L1614.7,1527.4 L1618.7,1527.6 L1622.8,1527.8 L1626.8,1528.0 L1630.8,1528.2 L1634.9,1528.3 L1638.9,1528.5 L1642.9,1528.7 L1646.9,1528.9 L1651.0,1529.1 L1655.0,1529.3 L1659.0,1529.4 L1663.1,1529.6 L1667.1,1529.8 L1671.1,1529.9 L1675.2,1530.1 L1679.2,1530.3 L1683.2,1530.4 L1687.2,1530.6 L1691.3,1530.8 L1695.3,1530.9 L1699.3,1531.1 L1703.4,1531.2 L1707.4,1531.4 L1711.4,1531.6 L1715.5,1531.7 L1719.5,1531.9 L1723.5,1532.0 L1727.6,1532.2 L1731.6,1532.3 L1735.6,1532.4 L1739.6,1532.6 L1743.7,1532.7 L1747.7,1532.9 L1751.7,1533.0 L1755.8,1533.2 L1759.8,1533.3 L1763.8,1533.5 L1767.9,1533.6 L1771.9,1533.7 L1775.9,1533.9 L1779.9,1534.0 L1784.0,1534.2 L1788.0,1534.3" stroke="#d95319" stroke-width="17.8" fill="none" stroke-linejoin="round" stroke-linecap="butt"/>
<path d="M294.9,1553.1 L297.0,1549.7 L299.1,1546.3 L301.3,1542.9 L303.4,1539.5 L305.5,1536.1 L307.6,1532.7 L309.7,1529.3 L311.9,1525.9 L314.0,1522.5 L316.1,1519.1 L318.2,1515.6 L320.3,1512.2 L322.5,1508.8 L324.6,1505.4 L326.7,1502.0 L328.8,1498.6 L330.9,1495.2 L333.0,1491.8 L335.2,1488.4 L337.3,1485.0 L339.4,1481.6 L341.5,1478.2 L343.6,1474.8 L345.7,1471.4 L347.9,1468.0 L350.0,1464.6 L352.1,1461.1 L354.2,1457.7 L356.3,1454.3 L358.4,1450.9 L360.5,1447.5 L362.7,1444.1 L364.8,1440.7 L366.9,1437.3 L369.0,1433.9 L371.1,1430.5 L373.2,1427.1 L375.3,1423.7 L377.4,1420.3 L379.6,1416.8 L381.7,1413.4 L383.8,1410.0 L385.9,1406.6 L388.0,1403.2 L390.1,1399.8 L392.2,1396.4 L394.3,1393.0 L396.4,1389.6 L398.6,1386.2 L400.7,1382.8 L402.8,1379.4 L404.9,1375.9 L407.0,1372.5 L409.1,1369.1 L411.2,1365.7 L413.3,1362.3 L415.4,1358.9 L417.5,1355.5 L419.7,1352.1 L421.8,1348.7 L423.9,1345.3 L426.0,1341.8 L428.1,1338.4 L430.2,1335.0 L432.3,1331.6 L434.4,1328.2 L436.5,1324.8 L438.6,1321.4 L440.7,1318.0 L442.8,1314.6 L444.9,1311.2 L447.1,1307.7 L449.2,1304.3 L451.3,1300.9 L453.4,1297.5 L455.5,1294.1 L457.6,1290.7 L459.7,1287.3 L461.8,1283.9 L463.9,1280.5 L466.0,1277.1 L468.1,1273.6 L470.2,1270.2 L472.3,1266.8 L474.5,1263.4 L476.6,1260.0 L478.7,1256.6 L480.8,1253.2 L482.9,1249.8 L485.0,1246.4 L487.1,1243.0 L489.2,1239.5 L491.3,1236.1 L493.4,1232.7 L495.5,1229.3 L497.6,1225.9 L499.7,1222.5 L501.8,1219.1 L503.9,1215.7 L506.0,1212.3 L508.2,1208.9 L510.3,1205.4 L512.4,1202.0 L514.5,1198.6 L516.6,1195.2 L518.7,1191.8 L520.8,1188.4 L522.9,1185.0 L525.0,1181.6 L527.1,1178.2 L529.2,1174.7 L531.3,1171.3 L533.4,1167.9 L535.5,1164.5 L537.6,1161.1 L539.8,1157.7 L541.9,1154.3 L544.0,1150.9 L546.1,1147.5 L548.2,1144.1 L550.3,1140.6 L552.4,1137.2 L554.5,1133.8 L556.6,1130.4 L558.7,1127.0 L560.8,1123.6 L562.9,1120.2 L565.0,1116.8 L567.1,1113.4 L569.2,1110.0 L571.4,1106.5 L573.5,1103.1 L575.6,1099.7 L577.7,1096.3 L579.8,1092.9 L581.9,1089.5 L584.0,1086.1 L586.1,1082.7 L588.2,1079.3 L590.3,1075.9 L592.4,1072.5 L594.5,1069.0 L596.7,1065.6 L598.8,1062.2 L600.9,1058.8 L603.0,1055.4 L605.1,1052.0 L607.2,1048.6 L609.3,1045.2 L611.4,1041.8 L613.5,1038.4 L615.6,1035.0 L617.8,1031.5 L619.9,1028.1 L622.0,1024.7 L624.1,1021.3 L626.2,1017.9 L628.3,1014.5 L630.4,1011.1 L632.5,1007.7 L634.6,1004.3 L636.8,1000.9 L638.9,997.5 L641.0,994.1 L643.1,990.6 L645.2,987.2 L647.3,983.8 L649.4,980.4 L651.5,977.0 L653.7,973.6 L655.8,970.2 L657.9,966.8 L660.0,963.4 L662.1,960.0 L664.2,956.6 L666.3,953.2 L668.4,949.8 L670.6,946.4 L672.7,943.0 L674.8,939.5 L676.9,936.1 L679.0,932.7 L681.1,929.3 L683.3,925.9 L685.4,922.5 L687.5,919.1 L689.6,915.7 L691.7,912.3 L693.8,908.9 L696.0,905.5 L698.1,902.1 L700.2,898.7 L702.3,895.3 L704.4,891.9 L706.6,888.5 L708.7,885.1 L710.8,881.7 L712.9,878.3 L715.0,874.9 L717.2,871.5 L719.3,868.0 L721.4,864.6 L723.5,861.2 L725.6,857.8 L727.8,854.4 L729.9,851.0 L732.0,847.6 L734.1,844.2 L736.3,840.8 L738.4,837.4 L740.5,834.0 L742.6,830.6 L744.8,827.2 L746.9,823.8 L749.0,820.4 L751.1,817.0 L753.3,813.6 L755.4,810.2 L757.5,806.8 L759.6,803.4 L761.8,800.0 L763.9,796.6 L766.0,793.2 L768.1,789.8 L770.3,786.4 L772.4,783.0 L774.5,779.6 L776.7,776.2 L778.8,772.8 L780.9,769.4 L783.1,766.0 L785.2,762.6 L787.3,759.2 L789.5,755.8 L791.6,752.4 L793.7,749.0 L795.9,745.6 L798.0,742.2 L800.1,738.8 L802.3,735.4 L804.4,732.1 L806.5,728.7 L808.7,725.3 L810.8,721.9 L813.0,718.5 L815.1,715.1 L817.3,711.7 L819.4,708.3 L821.6,704.9 L823.7,701.6 L825.9,698.2 L828.0,694.8 L830.2,691.4 L832.3,688.0 L834.5,684.7 L836.7,681.3 L838.8,677.9 L841.0,674.5 L843.2,671.2 L845.3,667.8 L847.5,664.4 L849.7,661.0 L851.9,657.7 L854.1,654.3 L856.2,651.0 L858.4,647.6 L860.6,644.2 L862.8,640.9 L865.0,637.5 L867.2,634.2 L869.4,630.8 L871.6,627.5 L873.8,624.1 L876.0,620.8 L878.2,617.4 L880.4,614.1 L882.6,610.8 L884.9,607.4 L887.1,604.1 L889.3,600.8 L891.5,597.4 L893.8,594.1 L896.0,590.8 L898.2,587.5 L900.5,584.2 L902.7,580.8 L905.0,577.5 L907.2,574.2 L909.5,570.9 L911.7,567.6 L914.0,564.3 L916.3,561.0 L918.6,557.7 L920.8,554.4 L923.1,551.1 L925.4,547.9 L927.7,544.6 L930.0,541.3 L932.3,538.0 L934.6,534.7 L936.9,531.5 L939.2,528.2 L941.6,525.0 L943.9,521.7 L946.2,518.5 L948.6,515.2 L950.9,512.0 L953.3,508.7 L955.6,505.5 L958.0,502.3 L960.4,499.0 L962.7,495.8 L965.1,492.6 L967.5,489.4 L969.9,486.2 L972.3,483.0 L974.7,479.8 L977.1,476.6 L979.6,473.4 L982.0,470.2 L984.4,467.0 L986.9,463.8 L989.3,460.7 L991.8,457.5 L994.2,454.3 L996.7,451.2 L999.2,448.0 L1001.7,444.9 L1004.2,441.7 L1006.7,438.6 L1009.2,435.5 L1011.7,432.3 L1014.3,429.2 L1016.8,426.1 L1019.4,423.0 L1021.9,419.9 L1024.5,416.8 L1027.1,413.7 L1029.7,410.6 L1032.2,407.5 L1034.8,404.5 L1037.5,401.4 L1040.1,398.4 L1042.7,395.3 L1045.4,392.2 L1048.0,389.2 L1050.7,386.2 L1053.3,383.2 L1056.0,380.2 L1058.8,377.2 L1061.5,374.2 L1064.3,371.3 L1067.1,368.5 L1070.0,365.7 L1072.9,362.9 L1075.8,360.2 L1078.8,357.6 L1081.9,355.0 L1085.0,352.5 L1088.2,350.2 L1091.5,347.8 L1094.9,345.6 L1098.3,343.5 L1101.8,341.5 L1105.4,339.6 L1109.1,337.8 L1112.8,336.2 L1116.7,334.8 L1120.5,333.6 L1124.4,332.7 L1128.3,332.2 L1132.2,332.0 L1136.0,332.3 L1139.8,333.0 L1143.5,334.0 L1147.1,335.4 L1150.7,337.1 L1154.1,339.1 L1157.3,341.3 L1160.5,343.8 L1163.5,346.4 L1166.3,349.2 L1168.9,352.1 L1171.4,355.1 L1173.8,358.3 L1176.0,361.6 L1178.0,364.9 L1180.0,368.4 L1181.8,372.0 L1183.5,375.6 L1185.1,379.3 L1186.6,383.1 L1188.0,387.0 L1189.3,390.8 L1190.6,394.8 L1191.8,398.7 L1192.9,402.7 L1194.0,406.7 L1195.0,410.7 L1196.0,414.7 L1197.0,418.7 L1198.0,422.7 L1198.9,426.7 L1199.8,430.7 L1200.6,434.7 L1201.5,438.7 L1202.3,442.6 L1203.1,446.6 L1203.9,450.6 L1204.7,454.5 L1205.4,458.5 L1206.2,462.4 L1206.9,466.3 L1207.6,470.3 L1208.3,474.2 L1209.0,478.2 L1209.6,482.1 L1210.3,486.0 L1211.0,490.0 L1211.6,493.9 L1212.2,497.8 L1212.9,501.8 L1213.5,505.7 L1214.1,509.6 L1214.7,513.6 L1215.3,517.5 L1215.9,521.5 L1216.5,525.4 L1217.1,529.4 L1217.7,533.3 L1218.3,537.3 L1218.9,541.2 L1219.5,545.2 L1220.0,549.1 L1220.6,553.1 L1221.2,557.0 L1221.7,561.0 L1222.3,564.9 L1222.8,568.9 L1223.4,572.8 L1223.9,576.8 L1224.5,580.8 L1225.0,584.7 L1225.5,588.7 L1226.0,592.7 L1226.5,596.6 L1227.1,600.6 L1227.6,604.6 L1228.1,608.5 L1228.6,612.5 L1229.1,616.5 L1229.6,620.4 L1230.0,624.4 L1230.5,628.4 L1231.0,632.3 L1231.5,636.3 L1232.0,640.3 L1232.4,644.3 L1232.9,648.3 L1233.3,652.2 L1233.8,656.2 L1234.2,660.2 L1234.7,664.2 L1235.1,668.2 L1235.6,672.1 L1236.0,676.1 L1236.4,680.1 L1236.9,684.1 L1237.3,688.1 L1237.7,692.1 L1238.1,696.0 L1238.5,700.0 L1238.9,704.0 L1239.3,708.0 L1239.7,712.0 L1240.1,716.0 L1240.5,720.0 L1240.9,724.0 L1241.3,728.0 L1241.7,732.0 L1242.1,736.0 L1242.4,739.9 L1242.8,743.9 L1243.2,747.9 L1243.6,751.9 L1243.9,755.9 L1244.3,759.9 L1244.6,763.9 L1245.0,767.9 L1245.3,771.9 L1245.7,775.9 L1246.0,779.9 L1246.4,783.9 L1246.7,787.9 L1247.0,791.9 L1247.3,795.9 L1247.7,799.9 L1248.0,803.9 L1248.3,807.9 L1248.6,811.9 L1248.9,815.9 L1249.3,819.9 L1249.6,823.9 L1249.9,827.9 L1250.2,831.9 L1250.5,836.0 L1250.8,840.0 L1251.1,844.0 L1251.3,848.0 L1251.6,852.0 L1251.9,856.0 L1252.2,860.0 L1252.5,864.0 L1252.8,868.0 L1253.0,872.0 L1253.3,876.0 L1253.6,880.0 L1253.8,884.0 L1254.1,888.0 L1254.4,892.0 L1254.6,896.0 L1254.9,900.1 L1255.1,904.1 L1255.4,908.1 L1255.6,912.1 L1255.9,916.1 L1256.1,920.1 L1256.4,924.1 L1256.6,928.1 L1256.8,932.1 L1257.1,936.1 L1257.3,940.1 L1257.5,944.1 L1257.8,948.1 L1258.0,952.2 L1258.2,956.2 L1258.4,960.2 L1258.7,964.2 L1258.9,968.2 L1259.1,972.2 L1259.3,976.2 L1259.5,980.2 L1259.7,984.2 L1259.9,988.2 L1260.1,992.2 L1260.4,996.2 L1260.6,1000.2 L1260.8,1004.2 L1261.0,1008.2 L1261.1,1012.2 L1261.3,1016.2 L1261.5,1020.3 L1261.7,1024.3 L1261.9,1028.3 L1262.1,1032.3 L1262.3,1036.3 L1262.5,1040.3 L1262.7,1044.3 L1262.8,1048.3 L1263.0,1052.3 L1263.2,1056.3 L1263.4,1060.3 L1263.5,1064.3 L1263.7,1068.3 L1263.9,1072.3 L1264.0,1076.3 L1264.2,1080.3 L1264.4,1084.3 L1264.5,1088.3 L1264.7,1092.3 L1264.8,1096.3 L1265.0,1100.3 L1265.2,1104.3 L1265.3,1108.3 L1265.5,1112.3 L1265.6,1116.3 L1265.7,1120.3 L1265.9,1124.3 L1266.0,1128.3 L1266.2,1132.3 L1266.3,1136.3 L1266.4,1140.3 L1266.6,1144.3 L1266.7,1148.3 L1266.8,1152.3 L1266.9,1156.3 L1267.1,1160.3 L1267.2,1164.3 L1267.3,1168.3 L1267.4,1172.3 L1267.5,1176.3 L1267.6,1180.3 L1267.7,1184.3 L1267.8,1188.3 L1268.0,1192.3 L1268.1,1196.3 L1268.2,1200.3 L1268.2,1204.3 L1268.3,1208.3 L1268.4,1212.3 L1268.5,1216.3 L1268.6,1220.3 L1268.7,1224.3 L1268.8,1228.3 L1268.9,1232.3 L1268.9,1236.3 L1269.0,1240.4 L1269.1,1244.4 L1269.1,1248.4 L1269.2,1252.4 L1269.3,1256.4 L1269.3,1260.4 L1269.4,1264.4 L1269.5,1268.4 L1269.5,1272.4 L1269.6,1276.4 L1269.6,1280.4 L1269.7,1284.4 L1269.7,1288.4 L1269.7,1292.4 L1269.8,1296.4 L1269.8,1300.4 L1269.8,1304.4 L1269.9,1308.4 L1269.9,1312.4 L1269.9,1316.5 L1270.0,1320.5 L1270.0,1324.5 L1270.0,1328.5 L1270.0,1332.5 L1270.0,1336.5 L1270.0,1340.5 L1270.0,1344.5 L1270.0,1348.5 L1270.0,1352.5 L1270.0,1356.6 L1270.0,1360.6 L1270.0,1364.6 L1270.0,1368.6 L1270.0,1372.6 L1270.0,1376.6 L1269.9,1380.6 L1269.9,1384.6 L1269.9,1388.7 L1269.9,1392.7 L1269.8,1396.7 L1269.8,1400.7 L1269.8,1404.7 L1269.7,1408.7 L1269.7,1412.8 L1269.6,1416.8 L1269.6,1420.8 L1269.5,1424.8 L1269.5,1428.8 L1269.4,1432.9 L1269.4,1436.9 L1269.3,1440.9 L1269.2,1444.9 L1269.2,1449.0 L1269.1,1453.0 L1269.0,1457.0 L1269.0,1457.0 L1272.9,1458.3 L1276.8,1459.5 L1280.8,1460.8 L1284.7,1462.0 L1288.7,1463.2 L1292.6,1464.3 L1296.6,1465.4 L1300.5,1466.5 L1304.5,1467.6 L1308.5,1468.7 L1312.5,1469.7 L1316.4,1470.7 L1320.4,1471.7 L1324.4,1472.6 L1328.4,1473.6 L1332.4,1474.5 L1336.4,1475.4 L1340.5,1476.3 L1344.5,1477.1 L1348.5,1478.0 L1352.5,1478.8 L1356.5,1479.6 L1360.6,1480.4 L1364.6,1481.2 L1368.6,1482.0 L1372.7,1482.7 L1376.7,1483.5 L1380.8,1484.2 L1384.8,1484.9 L1388.9,1485.6 L1392.9,1486.3 L1397.0,1487.0 L1401.0,1487.7 L1405.1,1488.3 L1409.2,1489.0 L1413.2,1489.6 L1417.3,1490.3 L1421.4,1490.9 L1425.4,1491.5 L1429.5,1492.1 L1433.5,1492.8 L1437.6,1493.4 L1441.7,1494.0 L1445.7,1494.6 L1449.8,1495.2 L1453.9,1495.8 L1457.9,1496.4 L1462.0,1497.0" stroke="#edb120" stroke-width="17.8" fill="none" stroke-linejoin="round" stroke-linecap="butt"/>
<path d="M294.9,1553.1 L297.0,1549.7 L299.2,1546.3 L301.3,1542.9 L303.5,1539.6 L305.6,1536.2 L307.7,1532.8 L309.9,1529.4 L312.0,1526.0 L314.2,1522.6 L316.3,1519.2 L318.4,1515.8 L320.6,1512.4 L322.7,1509.0 L324.8,1505.6 L327.0,1502.2 L329.1,1498.9 L331.2,1495.5 L333.3,1492.1 L335.5,1488.7 L337.6,1485.3 L339.7,1481.9 L341.8,1478.5 L344.0,1475.1 L346.1,1471.7 L348.2,1468.3 L350.3,1464.9 L352.4,1461.5 L354.6,1458.1 L356.7,1454.7 L358.8,1451.3 L360.9,1447.9 L363.0,1444.5 L365.2,1441.1 L367.3,1437.7 L369.4,1434.2 L371.5,1430.8 L373.6,1427.4 L375.7,1424.0 L377.8,1420.6 L379.9,1417.2 L382.1,1413.8 L384.2,1410.4 L386.3,1407.0 L388.4,1403.6 L390.5,1400.2 L392.6,1396.8 L394.7,1393.4 L396.8,1390.0 L398.9,1386.5 L401.0,1383.1 L403.1,1379.7 L405.2,1376.3 L407.3,1372.9 L409.4,1369.5 L411.5,1366.1 L413.6,1362.7 L415.7,1359.3 L417.8,1355.8 L419.9,1352.4 L422.0,1349.0 L424.1,1345.6 L426.2,1342.2 L428.3,1338.8 L430.4,1335.4 L432.5,1331.9 L434.6,1328.5 L436.7,1325.1 L438.8,1321.7 L440.9,1318.3 L443.0,1314.9 L445.1,1311.4 L447.2,1308.0 L449.3,1304.6 L451.4,1301.2 L453.5,1297.8 L455.6,1294.4 L457.7,1290.9 L459.8,1287.5 L461.9,1284.1 L464.0,1280.7 L466.1,1277.3 L468.2,1273.9 L470.3,1270.4 L472.4,1267.0 L474.5,1263.6 L476.5,1260.2 L478.6,1256.8 L480.7,1253.4 L482.8,1249.9 L484.9,1246.5 L487.0,1243.1 L489.1,1239.7 L491.2,1236.3 L493.3,1232.8 L495.4,1229.4 L497.5,1226.0 L499.6,1222.6 L501.7,1219.2 L503.8,1215.8 L505.8,1212.3 L507.9,1208.9 L510.0,1205.5 L512.1,1202.1 L514.2,1198.7 L516.3,1195.2 L518.4,1191.8 L520.5,1188.4 L522.6,1185.0 L524.7,1181.6 L526.8,1178.2 L528.9,1174.7 L531.0,1171.3 L533.1,1167.9 L535.2,1164.5 L537.3,1161.1 L539.3,1157.7 L541.4,1154.2 L543.5,1150.8 L545.6,1147.4 L547.7,1144.0 L549.8,1140.6 L551.9,1137.2 L554.0,1133.7 L556.1,1130.3 L558.2,1126.9 L560.3,1123.5 L562.4,1120.1 L564.5,1116.7 L566.6,1113.2 L568.7,1109.8 L570.8,1106.4 L572.9,1103.0 L575.0,1099.6 L577.1,1096.2 L579.2,1092.8 L581.3,1089.3 L583.4,1085.9 L585.5,1082.5 L587.6,1079.1 L589.7,1075.7 L591.8,1072.3 L593.9,1068.9 L596.0,1065.5 L598.1,1062.1 L600.2,1058.6 L602.3,1055.2 L604.4,1051.8 L606.6,1048.4 L608.7,1045.0 L610.8,1041.6 L612.9,1038.2 L615.0,1034.8 L617.1,1031.4 L619.2,1028.0 L621.3,1024.6 L623.4,1021.2 L625.5,1017.7 L627.7,1014.3 L629.8,1010.9 L631.9,1007.5 L634.0,1004.1 L636.1,1000.7 L638.2,997.3 L640.4,993.9 L642.5,990.5 L644.6,987.1 L646.7,983.7 L648.8,980.3 L651.0,976.9 L653.1,973.5 L655.2,970.1 L657.3,966.7 L659.4,963.3 L661.6,959.9 L663.7,956.5 L665.8,953.1 L668.0,949.7 L670.1,946.3 L672.2,942.9 L674.3,939.6 L676.5,936.2 L678.6,932.8 L680.7,929.4 L682.9,926.0 L685.0,922.6 L687.1,919.2 L689.3,915.8 L691.4,912.4 L693.6,909.0 L695.7,905.6 L697.8,902.3 L700.0,898.9 L702.1,895.5 L704.3,892.1 L706.4,888.7 L708.6,885.3 L710.7,881.9 L712.9,878.6 L715.0,875.2 L717.2,871.8 L719.3,868.4 L721.5,865.0 L723.6,861.7 L725.8,858.3 L727.9,854.9 L730.1,851.5 L732.3,848.2 L734.4,844.8 L736.6,841.4 L738.7,838.0 L740.9,834.7 L743.1,831.3 L745.2,827.9 L747.4,824.5 L749.6,821.2 L751.7,817.8 L753.9,814.4 L756.1,811.1 L758.3,807.7 L760.4,804.3 L762.6,801.0 L764.8,797.6 L767.0,794.3 L769.2,790.9 L771.3,787.5 L773.5,784.2 L775.7,780.8 L777.9,777.5 L780.1,774.1 L782.3,770.7 L784.5,767.4 L786.7,764.0 L788.9,760.7 L791.1,757.3 L793.3,754.0 L795.5,750.6 L797.7,747.3 L799.9,743.9 L802.1,740.6 L804.3,737.2 L806.5,733.9 L808.7,730.5 L810.9,727.2 L813.1,723.9 L815.3,720.5 L817.5,717.2 L819.8,713.8 L822.0,710.5 L824.2,707.2 L826.4,703.8 L828.6,700.5 L830.9,697.2 L833.1,693.8 L835.3,690.5 L837.5,687.2 L839.8,683.8 L842.0,680.5 L844.3,677.2 L846.5,673.9 L848.7,670.5 L851.0,667.2 L853.2,663.9 L855.5,660.6 L857.7,657.3 L860.0,654.0 L862.3,650.7 L864.5,647.4 L866.8,644.0 L869.1,640.7 L871.3,637.5 L873.6,634.2 L875.9,630.9 L878.2,627.6 L880.5,624.3 L882.8,621.0 L885.1,617.8 L887.4,614.5 L889.8,611.2 L892.1,608.0 L894.4,604.7 L896.8,601.5 L899.1,598.2 L901.5,595.0 L903.8,591.7 L906.2,588.5 L908.6,585.3 L911.0,582.1 L913.4,578.8 L915.8,575.6 L918.2,572.4 L920.6,569.2 L923.0,566.1 L925.4,562.9 L927.9,559.7 L930.3,556.5 L932.8,553.4 L935.3,550.2 L937.8,547.1 L940.3,543.9 L942.8,540.8 L945.3,537.7 L947.8,534.6 L950.3,531.5 L952.9,528.4 L955.4,525.3 L958.0,522.2 L960.6,519.2 L963.2,516.1 L965.8,513.1 L968.4,510.0 L971.0,507.0 L973.6,504.0 L976.3,501.0 L978.9,498.0 L981.6,495.1 L984.3,492.1 L987.0,489.2 L989.7,486.2 L992.4,483.3 L995.2,480.4 L997.9,477.5 L1000.7,474.6 L1003.5,471.8 L1006.3,469.0 L1009.1,466.2 L1012.0,463.5 L1015.0,460.8 L1018.0,458.2 L1021.0,455.7 L1024.2,453.2 L1027.4,450.8 L1030.7,448.5 L1034.0,446.1 L1037.4,443.9 L1041.0,441.6 L1044.6,439.4 L1048.2,437.2 L1052.0,435.1 L1055.8,433.2 L1059.6,431.5 L1063.5,429.9 L1067.3,428.7 L1071.2,427.7 L1075.1,427.1 L1079.0,426.9 L1082.8,427.0 L1086.6,427.7 L1090.4,428.7 L1094.1,430.0 L1097.6,431.7 L1101.1,433.5 L1104.5,435.6 L1107.7,437.8 L1110.8,440.1 L1113.8,442.7 L1116.6,445.3 L1119.4,448.2 L1122.0,451.1 L1124.6,454.1 L1127.0,457.3 L1129.4,460.6 L1131.6,463.9 L1133.8,467.4 L1135.9,470.9 L1137.8,474.5 L1139.7,478.2 L1141.6,481.9 L1143.3,485.7 L1144.9,489.4 L1146.5,493.3 L1148.0,497.1 L1149.5,500.9 L1150.9,504.8 L1152.2,508.6 L1153.4,512.5 L1154.6,516.4 L1155.8,520.2 L1156.9,524.1 L1157.9,528.0 L1159.0,531.8 L1159.9,535.7 L1160.9,539.6 L1161.8,543.5 L1162.7,547.3 L1163.5,551.2 L1164.3,555.1 L1165.2,559.0 L1165.9,562.9 L1166.7,566.8 L1167.5,570.7 L1168.3,574.6 L1169.0,578.5 L1169.8,582.4 L1170.5,586.3 L1171.3,590.2 L1172.0,594.1 L1172.7,598.1 L1173.5,602.0 L1174.2,605.9 L1174.9,609.8 L1175.6,613.7 L1176.3,617.6 L1177.0,621.6 L1177.7,625.5 L1178.4,629.4 L1179.1,633.4 L1179.8,637.3 L1180.5,641.2 L1181.2,645.2 L1181.8,649.1 L1182.5,653.0 L1183.2,657.0 L1183.8,660.9 L1184.5,664.9 L1185.1,668.8 L1185.8,672.8 L1186.4,676.7 L1187.0,680.7 L1187.7,684.6 L1188.3,688.6 L1188.9,692.5 L1189.5,696.5 L1190.1,700.4 L1190.8,704.4 L1191.4,708.4 L1192.0,712.3 L1192.5,716.3 L1193.1,720.2 L1193.7,724.2 L1194.3,728.2 L1194.9,732.1 L1195.4,736.1 L1196.0,740.1 L1196.6,744.1 L1197.1,748.0 L1197.7,752.0 L1198.2,756.0 L1198.8,760.0 L1199.3,763.9 L1199.8,767.9 L1200.3,771.9 L1200.9,775.9 L1201.4,779.9 L1201.9,783.8 L1202.4,787.8 L1202.9,791.8 L1203.4,795.8 L1203.9,799.8 L1204.4,803.8 L1204.9,807.8 L1205.4,811.7 L1205.8,815.7 L1206.3,819.7 L1206.8,823.7 L1207.2,827.7 L1207.7,831.7 L1208.1,835.7 L1208.6,839.7 L1209.0,843.7 L1209.4,847.7 L1209.9,851.7 L1210.3,855.7 L1210.7,859.7 L1211.1,863.7 L1211.6,867.7 L1212.0,871.6 L1212.4,875.6 L1212.8,879.6 L1213.2,883.6 L1213.5,887.6 L1213.9,891.6 L1214.3,895.6 L1214.7,899.6 L1215.1,903.6 L1215.4,907.6 L1215.8,911.6 L1216.1,915.6 L1216.5,919.6 L1216.8,923.6 L1217.2,927.6 L1217.5,931.6 L1217.8,935.6 L1218.2,939.7 L1218.5,943.7 L1218.8,947.7 L1219.1,951.7 L1219.4,955.7 L1219.7,959.7 L1220.0,963.7 L1220.3,967.7 L1220.6,971.7 L1220.9,975.7 L1221.2,979.7 L1221.4,983.7 L1221.7,987.7 L1222.0,991.7 L1222.2,995.7 L1222.5,999.7 L1222.7,1003.7 L1223.0,1007.7 L1223.2,1011.7 L1223.4,1015.7 L1223.7,1019.7 L1223.9,1023.6 L1224.1,1027.6 L1224.3,1031.6 L1224.6,1035.6 L1224.8,1039.6 L1225.0,1043.6 L1225.2,1047.6 L1225.4,1051.6 L1225.5,1055.6 L1225.7,1059.6 L1225.9,1063.6 L1226.1,1067.6 L1226.3,1071.6 L1226.4,1075.6 L1226.6,1079.6 L1226.8,1083.6 L1226.9,1087.6 L1227.1,1091.6 L1227.2,1095.6 L1227.4,1099.6 L1227.5,1103.6 L1227.6,1107.6 L1227.8,1111.5 L1227.9,1115.5 L1228.0,1119.5 L1228.1,1123.5 L1228.3,1127.5 L1228.4,1131.5 L1228.5,1135.5 L1228.6,1139.5 L1228.7,1143.5 L1228.8,1147.5 L1228.9,1151.5 L1229.0,1155.5 L1229.1,1159.5 L1229.2,1163.5 L1229.3,1167.5 L1229.4,1171.5 L1229.4,1175.5 L1229.5,1179.5 L1229.6,1183.5 L1229.6,1187.5 L1229.7,1191.5 L1229.8,1195.5 L1229.8,1199.5 L1229.9,1203.5 L1230.0,1207.5 L1230.0,1211.5 L1230.1,1215.5 L1230.1,1219.5 L1230.2,1223.5 L1230.2,1227.5 L1230.2,1231.5 L1230.3,1235.5 L1230.3,1239.5 L1230.3,1243.5 L1230.4,1247.5 L1230.4,1251.5 L1230.4,1255.5 L1230.5,1259.5 L1230.5,1263.5 L1230.5,1267.5 L1230.5,1271.5 L1230.5,1275.6 L1230.5,1279.6 L1230.5,1283.6 L1230.6,1287.6 L1230.6,1291.6 L1230.6,1295.6 L1230.6,1299.6 L1230.6,1303.6 L1230.6,1307.7 L1230.6,1311.7 L1230.6,1315.7 L1230.6,1319.7 L1230.6,1323.7 L1230.6,1327.8 L1230.5,1331.8 L1230.5,1335.8 L1230.5,1339.8 L1230.5,1343.8 L1230.5,1347.9 L1230.5,1351.9 L1230.5,1355.9 L1230.4,1359.9 L1230.4,1364.0 L1230.4,1368.0 L1230.4,1368.0 L1233.7,1370.5 L1237.0,1373.0 L1240.4,1375.4 L1243.7,1377.8 L1247.1,1380.2 L1250.5,1382.5 L1253.9,1384.8 L1257.3,1387.0 L1260.8,1389.2 L1264.2,1391.4 L1267.7,1393.6 L1271.2,1395.7 L1274.7,1397.7 L1278.2,1399.8 L1281.7,1401.8 L1285.2,1403.8 L1288.8,1405.7 L1292.4,1407.6 L1295.9,1409.5 L1299.5,1411.4 L1303.1,1413.2 L1306.7,1415.0 L1310.4,1416.7 L1314.0,1418.4 L1317.7,1420.1 L1321.3,1421.8 L1325.0,1423.4 L1328.7,1425.0 L1332.4,1426.6 L1336.1,1428.2 L1339.8,1429.7 L1343.6,1431.2 L1347.3,1432.7 L1351.1,1434.1 L1354.8,1435.5 L1358.6,1436.9 L1362.4,1438.3 L1366.2,1439.7 L1370.0,1441.0 L1373.8,1442.3 L1377.6,1443.5 L1381.4,1444.8 L1385.3,1446.0 L1389.1,1447.2 L1393.0,1448.4 L1396.8,1449.6 L1400.7,1450.7 L1404.6,1451.8 L1408.5,1452.9 L1412.4,1454.0 L1416.3,1455.1 L1420.2,1456.1 L1424.1,1457.1 L1428.0,1458.1 L1431.9,1459.1 L1435.9,1460.1 L1439.8,1461.0 L1443.7,1461.9 L1447.7,1462.8 L1451.6,1463.7 L1455.6,1464.6 L1459.6,1465.5 L1463.5,1466.3 L1467.5,1467.2 L1471.5,1468.0 L1475.5,1468.8 L1479.5,1469.6 L1483.5,1470.3 L1487.5,1471.1 L1491.5,1471.9 L1495.5,1472.6 L1499.5,1473.3 L1503.5,1474.0 L1507.5,1474.7 L1511.5,1475.4 L1515.5,1476.1 L1519.6,1476.8 L1523.6,1477.4 L1527.6,1478.1 L1531.6,1478.7 L1535.7,1479.4 L1539.7,1480.0 L1543.7,1480.6 L1547.7,1481.2 L1551.8,1481.8 L1555.8,1482.4 L1559.8,1483.0 L1563.9,1483.6 L1567.9,1484.1 L1571.9,1484.7 L1576.0,1485.3 L1580.0,1485.8 L1584.0,1486.4 L1588.1,1486.9 L1592.1,1487.5 L1596.1,1488.0 L1600.1,1488.6 L1604.2,1489.1 L1608.2,1489.7 L1612.2,1490.2 L1616.2,1490.7 L1620.2,1491.3 L1624.3,1491.8 L1628.3,1492.3 L1632.3,1492.9 L1636.3,1493.4 L1640.3,1493.9 L1644.3,1494.5 L1648.3,1495.0 L1652.3,1495.6 L1656.2,1496.1 L1660.2,1496.6 L1664.2,1497.2 L1668.2,1497.7 L1672.1,1498.3 L1676.1,1498.9 L1680.0,1499.4 L1684.0,1500.0" stroke="#7e2f8e" stroke-width="17.8" fill="none" stroke-linejoin="round" stroke-linecap="butt"/>
<path d="M294.9,1553.1 L297.1,1549.7 L299.2,1546.4 L301.4,1543.0 L303.6,1539.6 L305.7,1536.2 L307.9,1532.8 L310.0,1529.5 L312.2,1526.1 L314.3,1522.7 L316.5,1519.3 L318.6,1515.9 L320.8,1512.5 L322.9,1509.2 L325.1,1505.8 L327.2,1502.4 L329.4,1499.0 L331.5,1495.6 L333.6,1492.2 L335.8,1488.8 L337.9,1485.4 L340.0,1482.0 L342.2,1478.6 L344.3,1475.2 L346.4,1471.8 L348.6,1468.4 L350.7,1465.0 L352.8,1461.6 L354.9,1458.2 L357.1,1454.8 L359.2,1451.4 L361.3,1448.0 L363.4,1444.6 L365.5,1441.2 L367.7,1437.8 L369.8,1434.4 L371.9,1431.0 L374.0,1427.6 L376.1,1424.2 L378.2,1420.8 L380.3,1417.4 L382.4,1414.0 L384.5,1410.5 L386.6,1407.1 L388.8,1403.7 L390.9,1400.3 L393.0,1396.9 L395.1,1393.5 L397.2,1390.1 L399.3,1386.6 L401.4,1383.2 L403.5,1379.8 L405.6,1376.4 L407.7,1373.0 L409.8,1369.6 L411.8,1366.1 L413.9,1362.7 L416.0,1359.3 L418.1,1355.9 L420.2,1352.5 L422.3,1349.0 L424.4,1345.6 L426.5,1342.2 L428.6,1338.8 L430.7,1335.4 L432.8,1331.9 L434.9,1328.5 L436.9,1325.1 L439.0,1321.7 L441.1,1318.2 L443.2,1314.8 L445.3,1311.4 L447.4,1308.0 L449.5,1304.5 L451.5,1301.1 L453.6,1297.7 L455.7,1294.3 L457.8,1290.8 L459.9,1287.4 L462.0,1284.0 L464.0,1280.6 L466.1,1277.1 L468.2,1273.7 L470.3,1270.3 L472.4,1266.9 L474.5,1263.4 L476.5,1260.0 L478.6,1256.6 L480.7,1253.1 L482.8,1249.7 L484.9,1246.3 L487.0,1242.9 L489.0,1239.4 L491.1,1236.0 L493.2,1232.6 L495.3,1229.2 L497.4,1225.7 L499.4,1222.3 L501.5,1218.9 L503.6,1215.4 L505.7,1212.0 L507.8,1208.6 L509.9,1205.2 L511.9,1201.7 L514.0,1198.3 L516.1,1194.9 L518.2,1191.5 L520.3,1188.0 L522.4,1184.6 L524.4,1181.2 L526.5,1177.8 L528.6,1174.3 L530.7,1170.9 L532.8,1167.5 L534.9,1164.1 L537.0,1160.6 L539.1,1157.2 L541.1,1153.8 L543.2,1150.4 L545.3,1147.0 L547.4,1143.5 L549.5,1140.1 L551.6,1136.7 L553.7,1133.3 L555.8,1129.9 L557.9,1126.4 L560.0,1123.0 L562.1,1119.6 L564.2,1116.2 L566.3,1112.8 L568.3,1109.3 L570.4,1105.9 L572.5,1102.5 L574.6,1099.1 L576.7,1095.7 L578.8,1092.3 L580.9,1088.9 L583.1,1085.4 L585.2,1082.0 L587.3,1078.6 L589.4,1075.2 L591.5,1071.8 L593.6,1068.4 L595.7,1065.0 L597.8,1061.6 L599.9,1058.2 L602.0,1054.7 L604.1,1051.3 L606.3,1047.9 L608.4,1044.5 L610.5,1041.1 L612.6,1037.7 L614.7,1034.3 L616.9,1030.9 L619.0,1027.5 L621.1,1024.1 L623.2,1020.7 L625.4,1017.3 L627.5,1013.9 L629.6,1010.5 L631.7,1007.1 L633.9,1003.7 L636.0,1000.3 L638.1,997.0 L640.3,993.6 L642.4,990.2 L644.6,986.8 L646.7,983.4 L648.8,980.0 L651.0,976.6 L653.1,973.2 L655.3,969.8 L657.4,966.5 L659.6,963.1 L661.7,959.7 L663.9,956.3 L666.0,952.9 L668.2,949.6 L670.4,946.2 L672.5,942.8 L674.7,939.4 L676.9,936.1 L679.0,932.7 L681.2,929.3 L683.4,925.9 L685.5,922.6 L687.7,919.2 L689.9,915.8 L692.1,912.5 L694.2,909.1 L696.4,905.8 L698.6,902.4 L700.8,899.0 L703.0,895.7 L705.2,892.3 L707.4,889.0 L709.6,885.6 L711.8,882.3 L714.0,878.9 L716.2,875.6 L718.4,872.2 L720.6,868.9 L722.8,865.5 L725.0,862.2 L727.2,858.8 L729.4,855.5 L731.7,852.2 L733.9,848.8 L736.1,845.5 L738.3,842.1 L740.6,838.8 L742.8,835.5 L745.0,832.1 L747.3,828.8 L749.5,825.5 L751.7,822.2 L754.0,818.8 L756.2,815.5 L758.5,812.2 L760.7,808.9 L763.0,805.6 L765.2,802.3 L767.5,798.9 L769.8,795.6 L772.0,792.3 L774.3,789.0 L776.6,785.7 L778.8,782.4 L781.1,779.1 L783.4,775.8 L785.7,772.5 L788.0,769.2 L790.3,765.9 L792.5,762.6 L794.8,759.3 L797.1,756.0 L799.4,752.7 L801.7,749.5 L804.0,746.2 L806.4,742.9 L808.7,739.6 L811.0,736.3 L813.3,733.1 L815.6,729.8 L818.0,726.5 L820.3,723.3 L822.6,720.0 L825.0,716.7 L827.3,713.5 L829.7,710.2 L832.0,707.0 L834.4,703.7 L836.7,700.5 L839.1,697.3 L841.5,694.0 L843.9,690.8 L846.3,687.6 L848.7,684.4 L851.1,681.2 L853.5,678.0 L855.9,674.8 L858.3,671.6 L860.8,668.4 L863.2,665.2 L865.7,662.1 L868.1,658.9 L870.6,655.8 L873.1,652.6 L875.6,649.5 L878.1,646.4 L880.6,643.3 L883.1,640.2 L885.6,637.1 L888.2,634.0 L890.7,630.9 L893.3,627.9 L895.9,624.8 L898.5,621.8 L901.1,618.8 L903.7,615.8 L906.4,612.8 L909.1,609.8 L911.8,606.9 L914.5,604.0 L917.2,601.0 L920.0,598.2 L922.8,595.3 L925.7,592.4 L928.5,589.6 L931.4,586.8 L934.3,584.0 L937.3,581.3 L940.3,578.6 L943.3,575.9 L946.3,573.2 L949.4,570.6 L952.6,568.0 L955.8,565.4 L959.0,562.9 L962.3,560.4 L965.6,558.1 L968.9,555.8 L972.4,553.7 L975.9,551.7 L979.4,549.9 L983.0,548.2 L986.7,546.7 L990.5,545.4 L994.3,544.2 L998.2,543.4 L1002.2,542.7 L1006.2,542.3 L1010.3,542.2 L1014.3,542.3 L1018.3,542.8 L1022.3,543.5 L1026.1,544.5 L1029.8,545.8 L1033.4,547.4 L1036.8,549.3 L1040.0,551.5 L1043.1,554.0 L1046.0,556.7 L1048.8,559.5 L1051.5,562.5 L1054.1,565.6 L1056.6,568.7 L1059.0,572.0 L1061.3,575.2 L1063.5,578.5 L1065.7,581.9 L1067.7,585.3 L1069.7,588.8 L1071.6,592.3 L1073.5,595.8 L1075.3,599.4 L1077.0,603.0 L1078.6,606.7 L1080.2,610.4 L1081.8,614.1 L1083.3,617.8 L1084.7,621.6 L1086.1,625.4 L1087.5,629.2 L1088.8,633.0 L1090.1,636.8 L1091.4,640.7 L1092.6,644.5 L1093.8,648.4 L1095.0,652.3 L1096.2,656.2 L1097.3,660.0 L1098.5,663.9 L1099.6,667.8 L1100.7,671.7 L1101.8,675.6 L1102.9,679.5 L1104.0,683.4 L1105.0,687.2 L1106.1,691.1 L1107.1,695.0 L1108.2,698.9 L1109.2,702.8 L1110.2,706.7 L1111.2,710.6 L1112.1,714.5 L1113.1,718.4 L1114.0,722.3 L1115.0,726.2 L1115.9,730.1 L1116.8,734.0 L1117.7,737.9 L1118.6,741.8 L1119.5,745.7 L1120.4,749.6 L1121.2,753.5 L1122.1,757.4 L1122.9,761.3 L1123.8,765.3 L1124.6,769.2 L1125.4,773.1 L1126.2,777.0 L1127.0,780.9 L1127.7,784.8 L1128.5,788.8 L1129.2,792.7 L1130.0,796.6 L1130.7,800.5 L1131.5,804.5 L1132.2,808.4 L1132.9,812.3 L1133.6,816.3 L1134.3,820.2 L1134.9,824.1 L1135.6,828.1 L1136.3,832.0 L1136.9,836.0 L1137.6,839.9 L1138.2,843.8 L1138.8,847.8 L1139.4,851.7 L1140.1,855.7 L1140.7,859.6 L1141.2,863.6 L1141.8,867.6 L1142.4,871.5 L1143.0,875.5 L1143.5,879.4 L1144.1,883.4 L1144.6,887.4 L1145.2,891.3 L1145.7,895.3 L1146.2,899.3 L1146.8,903.3 L1147.3,907.2 L1147.8,911.2 L1148.3,915.2 L1148.8,919.2 L1149.2,923.2 L1149.7,927.2 L1150.2,931.1 L1150.6,935.1 L1151.1,939.1 L1151.5,943.1 L1152.0,947.1 L1152.4,951.1 L1152.8,955.1 L1153.2,959.1 L1153.6,963.1 L1154.0,967.1 L1154.4,971.1 L1154.8,975.1 L1155.1,979.1 L1155.5,983.1 L1155.8,987.1 L1156.2,991.1 L1156.5,995.1 L1156.8,999.2 L1157.1,1003.2 L1157.4,1007.2 L1157.7,1011.2 L1158.0,1015.2 L1158.2,1019.2 L1158.5,1023.2 L1158.7,1027.2 L1159.0,1031.2 L1159.2,1035.3 L1159.4,1039.3 L1159.6,1043.3 L1159.8,1047.3 L1160.0,1051.3 L1160.2,1055.3 L1160.3,1059.3 L1160.5,1063.3 L1160.6,1067.3 L1160.7,1071.3 L1160.8,1075.3 L1160.9,1079.4 L1161.0,1083.4 L1161.1,1087.4 L1161.1,1091.4 L1161.2,1095.4 L1161.2,1099.4 L1161.3,1103.4 L1161.3,1107.4 L1161.3,1111.4 L1161.3,1115.4 L1161.2,1119.4 L1161.2,1123.4 L1161.2,1127.4 L1161.1,1131.4 L1161.1,1135.4 L1161.0,1139.3 L1160.9,1143.3 L1160.9,1147.3 L1160.8,1151.3 L1160.8,1155.3 L1160.7,1159.3 L1160.7,1163.3 L1160.6,1167.3 L1160.6,1171.3 L1160.5,1175.3 L1160.5,1179.3 L1160.5,1183.3 L1160.5,1187.3 L1160.5,1191.3 L1160.5,1195.3 L1160.5,1199.4 L1160.6,1203.4 L1160.6,1207.4 L1160.7,1211.4 L1160.8,1215.4 L1160.9,1219.4 L1161.1,1223.5 L1161.2,1227.5 L1161.4,1231.5 L1161.7,1235.6 L1161.9,1239.6 L1161.9,1239.6 L1165.1,1242.1 L1168.3,1244.5 L1171.4,1247.0 L1174.6,1249.4 L1177.8,1251.9 L1181.0,1254.3 L1184.3,1256.8 L1187.5,1259.2 L1190.7,1261.6 L1193.9,1264.0 L1197.2,1266.4 L1200.4,1268.8 L1203.7,1271.2 L1206.9,1273.6 L1210.2,1276.0 L1213.4,1278.3 L1216.7,1280.7 L1220.0,1283.1 L1223.3,1285.4 L1226.6,1287.7 L1229.9,1290.1 L1233.2,1292.4 L1236.5,1294.7 L1239.8,1297.0 L1243.2,1299.3 L1246.5,1301.5 L1249.8,1303.8 L1253.2,1306.1 L1256.6,1308.3 L1259.9,1310.5 L1263.3,1312.8 L1266.7,1315.0 L1270.1,1317.2 L1273.4,1319.4 L1276.8,1321.5 L1280.3,1323.7 L1283.7,1325.9 L1287.1,1328.0 L1290.5,1330.1 L1293.9,1332.2 L1297.4,1334.3 L1300.8,1336.4 L1304.3,1338.5 L1307.8,1340.6 L1311.2,1342.6 L1314.7,1344.6 L1318.2,1346.7 L1321.7,1348.7 L1325.2,1350.7 L1328.7,1352.6 L1332.2,1354.6 L1335.8,1356.5 L1339.3,1358.5 L1342.8,1360.4 L1346.4,1362.3 L1349.9,1364.1 L1353.5,1366.0 L1357.1,1367.9 L1360.6,1369.7 L1364.2,1371.5 L1367.8,1373.3 L1371.4,1375.1 L1375.0,1376.8 L1378.7,1378.6 L1382.3,1380.3 L1385.9,1382.0 L1389.6,1383.7 L1393.2,1385.4 L1396.9,1387.0 L1400.6,1388.7 L1404.2,1390.3 L1407.9,1391.9 L1411.6,1393.5 L1415.3,1395.0 L1419.0,1396.6 L1422.7,1398.1 L1426.5,1399.6 L1430.2,1401.1 L1433.9,1402.5 L1437.7,1404.0 L1441.4,1405.4 L1445.2,1406.8 L1449.0,1408.2 L1452.8,1409.6 L1456.5,1411.0 L1460.3,1412.3 L1464.1,1413.7 L1467.9,1415.0 L1471.7,1416.3 L1475.5,1417.6 L1479.4,1418.8 L1483.2,1420.1 L1487.0,1421.3 L1490.8,1422.5 L1494.7,1423.7 L1498.5,1424.9 L1502.4,1426.1 L1506.2,1427.3 L1510.1,1428.4 L1514.0,1429.5 L1517.8,1430.7 L1521.7,1431.8 L1525.6,1432.9 L1529.5,1433.9 L1533.4,1435.0 L1537.3,1436.0 L1541.1,1437.1 L1545.0,1438.1 L1548.9,1439.1 L1552.9,1440.1 L1556.8,1441.1 L1560.7,1442.1 L1564.6,1443.0 L1568.5,1444.0 L1572.4,1444.9 L1576.4,1445.8 L1580.3,1446.7 L1584.2,1447.6 L1588.2,1448.5 L1592.1,1449.4 L1596.0,1450.3 L1600.0,1451.1 L1603.9,1452.0 L1607.9,1452.8 L1611.8,1453.6 L1615.8,1454.5 L1619.7,1455.3 L1623.7,1456.1 L1627.6,1456.8 L1631.6,1457.6 L1635.5,1458.4 L1639.5,1459.1 L1643.4,1459.9 L1647.4,1460.6 L1651.4,1461.3 L1655.3,1462.1 L1659.3,1462.8 L1663.3,1463.5 L1667.2,1464.2 L1671.2,1464.8 L1675.2,1465.5 L1679.1,1466.2 L1683.1,1466.8 L1687.1,1467.5 L1691.1,1468.1 L1695.0,1468.8 L1699.0,1469.4 L1703.0,1470.0 L1707.0,1470.6 L1711.0,1471.2 L1715.0,1471.8 L1718.9,1472.4 L1722.9,1473.0 L1726.9,1473.5 L1730.9,1474.1 L1734.9,1474.7 L1738.9,1475.2 L1742.9,1475.7 L1746.9,1476.3 L1750.9,1476.8 L1754.9,1477.3 L1758.9,1477.8 L1762.9,1478.4 L1766.9,1478.9 L1770.9,1479.4 L1774.9,1479.9 L1778.9,1480.3 L1782.9,1480.8 L1786.9,1481.3 L1790.9,1481.8 L1794.9,1482.2 L1798.9,1482.7 L1802.9,1483.1 L1806.9,1483.6 L1810.9,1484.0 L1814.9,1484.5 L1818.9,1484.9 L1822.9,1485.3 L1826.9,1485.8 L1830.9,1486.2 L1834.9,1486.6 L1839.0,1487.0 L1843.0,1487.4 L1847.0,1487.8 L1851.0,1488.2 L1855.0,1488.6 L1859.0,1489.0 L1863.0,1489.4 L1867.1,1489.8 L1871.1,1490.1 L1875.1,1490.5 L1879.1,1490.9 L1883.1,1491.3 L1887.1,1491.6 L1891.1,1492.0 L1895.2,1492.4 L1899.2,1492.7 L1903.2,1493.1 L1907.2,1493.4 L1911.2,1493.8 L1915.2,1494.1 L1919.3,1494.5 L1923.3,1494.8 L1927.3,1495.2 L1931.3,1495.5 L1935.3,1495.9 L1939.4,1496.2 L1943.4,1496.5 L1947.4,1496.9 L1951.4,1497.2 L1955.4,1497.5 L1959.4,1497.9 L1963.5,1498.2 L1967.5,1498.5 L1971.5,1498.9 L1975.5,1499.2 L1979.5,1499.5 L1983.5,1499.9 L1987.6,1500.2 L1991.6,1500.5 L1995.6,1500.8 L1999.6,1501.2 L2003.6,1501.5 L2007.6,1501.8 L2011.7,1502.2 L2015.7,1502.5 L2019.7,1502.8 L2023.7,1503.1 L2027.7,1503.5 L2031.7,1503.8 L2035.7,1504.1 L2039.7,1504.5 L2043.7,1504.8 L2047.8,1505.1 L2051.8,1505.5 L2055.8,1505.8 L2059.8,1506.2 L2063.8,1506.5 L2067.8,1506.8 L2071.8,1507.2 L2075.8,1507.5 L2079.8,1507.9 L2083.8,1508.2 L2087.8,1508.6 L2091.8,1509.0 L2095.8,1509.3 L2099.8,1509.7 L2103.8,1510.0 L2107.8,1510.4 L2111.8,1510.8 L2115.8,1511.2 L2119.8,1511.5 L2123.8,1511.9 L2127.8,1512.3" stroke="#77ac30" stroke-width="17.8" fill="none" stroke-linejoin="round" stroke-linecap="butt"/>
<path d="M294.9,1553.1 L297.0,1549.7 L299.1,1546.3 L301.2,1542.8 L303.3,1539.4 L305.4,1536.0 L307.5,1532.6 L309.6,1529.2 L311.8,1525.8 L313.9,1522.3 L316.0,1518.9 L318.1,1515.5 L320.2,1512.1 L322.3,1508.7 L324.4,1505.3 L326.5,1501.9 L328.6,1498.4 L330.7,1495.0 L332.9,1491.6 L335.0,1488.2 L337.1,1484.8 L339.2,1481.4 L341.3,1478.0 L343.4,1474.5 L345.5,1471.1 L347.6,1467.7 L349.8,1464.3 L351.9,1460.9 L354.0,1457.5 L356.1,1454.1 L358.2,1450.7 L360.3,1447.2 L362.5,1443.8 L364.6,1440.4 L366.7,1437.0 L368.8,1433.6 L370.9,1430.2 L373.0,1426.8 L375.1,1423.4 L377.3,1419.9 L379.4,1416.5 L381.5,1413.1 L383.6,1409.7 L385.7,1406.3 L387.9,1402.9 L390.0,1399.5 L392.1,1396.1 L394.2,1392.7 L396.3,1389.2 L398.4,1385.8 L400.6,1382.4 L402.7,1379.0 L404.8,1375.6 L406.9,1372.2 L409.0,1368.8 L411.2,1365.4 L413.3,1362.0 L415.4,1358.5 L417.5,1355.1 L419.6,1351.7 L421.8,1348.3 L423.9,1344.9 L426.0,1341.5 L428.1,1338.1 L430.2,1334.7 L432.4,1331.3 L434.5,1327.9 L436.6,1324.4 L438.7,1321.0 L440.8,1317.6 L443.0,1314.2 L445.1,1310.8 L447.2,1307.4 L449.3,1304.0 L451.4,1300.6 L453.5,1297.2 L455.7,1293.8 L457.8,1290.3 L459.9,1286.9 L462.0,1283.5 L464.1,1280.1 L466.3,1276.7 L468.4,1273.3 L470.5,1269.9 L472.6,1266.5 L474.7,1263.1 L476.9,1259.6 L479.0,1256.2 L481.1,1252.8 L483.2,1249.4 L485.3,1246.0 L487.5,1242.6 L489.6,1239.2 L491.7,1235.8 L493.8,1232.4 L495.9,1228.9 L498.0,1225.5 L500.2,1222.1 L502.3,1218.7 L504.4,1215.3 L506.5,1211.9 L508.6,1208.5 L510.7,1205.1 L512.9,1201.7 L515.0,1198.2 L517.1,1194.8 L519.2,1191.4 L521.3,1188.0 L523.4,1184.6 L525.5,1181.2 L527.7,1177.8 L529.8,1174.3 L531.9,1170.9 L534.0,1167.5 L536.1,1164.1 L538.2,1160.7 L540.3,1157.3 L542.5,1153.9 L544.6,1150.5 L546.7,1147.0 L548.8,1143.6 L550.9,1140.2 L553.0,1136.8 L555.1,1133.4 L557.2,1130.0 L559.3,1126.5 L561.4,1123.1 L563.6,1119.7 L565.7,1116.3 L567.8,1112.9 L569.9,1109.5 L572.0,1106.0 L574.1,1102.6 L576.2,1099.2 L578.3,1095.8 L580.4,1092.4 L582.5,1089.0 L584.6,1085.5 L586.7,1082.1 L588.8,1078.7 L590.9,1075.3 L593.0,1071.9 L595.1,1068.4 L597.2,1065.0 L599.3,1061.6 L601.4,1058.2 L603.5,1054.8 L605.7,1051.3 L607.8,1047.9 L609.8,1044.5 L611.9,1041.1 L614.0,1037.6 L616.1,1034.2 L618.2,1030.8 L620.3,1027.4 L622.4,1024.0 L624.5,1020.5 L626.6,1017.1 L628.7,1013.7 L630.8,1010.3 L633.0,1006.9 L635.1,1003.4 L637.2,1000.0 L639.3,996.6 L641.4,993.2 L643.5,989.8 L645.6,986.4 L647.7,982.9 L649.8,979.5 L651.9,976.1 L654.1,972.7 L656.2,969.3 L658.3,965.9 L660.4,962.5 L662.6,959.1 L664.7,955.7 L666.8,952.3 L669.0,948.9 L671.1,945.5 L673.2,942.1 L675.4,938.7 L677.5,935.3 L679.7,931.9 L681.8,928.6 L684.0,925.2 L686.2,921.8 L688.3,918.4 L690.5,915.0 L692.7,911.7 L694.9,908.3 L697.1,904.9 L699.3,901.6 L701.5,898.2 L703.7,894.9 L705.9,891.5 L708.1,888.2 L710.3,884.8 L712.5,881.5 L714.7,878.1 L717.0,874.8 L719.2,871.4 L721.5,868.1 L723.7,864.8 L726.0,861.5 L728.2,858.1 L730.5,854.8 L732.7,851.5 L735.0,848.2 L737.3,844.9 L739.6,841.6 L741.9,838.3 L744.1,835.0 L746.4,831.7 L748.7,828.4 L751.0,825.1 L753.3,821.8 L755.6,818.5 L757.9,815.2 L760.2,811.9 L762.5,808.6 L764.8,805.3 L767.1,802.0 L769.5,798.8 L771.8,795.5 L774.1,792.2 L776.4,788.9 L778.7,785.6 L781.0,782.4 L783.4,779.1 L785.7,775.8 L788.0,772.5 L790.3,769.3 L792.6,766.0 L795.0,762.7 L797.3,759.4 L799.6,756.2 L802.0,752.9 L804.3,749.6 L806.7,746.4 L809.0,743.1 L811.4,739.9 L813.7,736.6 L816.1,733.4 L818.5,730.2 L820.8,727.0 L823.2,723.7 L825.6,720.5 L828.0,717.3 L830.4,714.1 L832.9,710.9 L835.3,707.7 L837.7,704.6 L840.2,701.4 L842.7,698.2 L845.1,695.1 L847.6,691.9 L850.1,688.8 L852.6,685.7 L855.2,682.6 L857.7,679.5 L860.2,676.4 L862.8,673.3 L865.4,670.2 L868.0,667.2 L870.6,664.1 L873.2,661.1 L875.9,658.1 L878.5,655.1 L881.2,652.1 L883.9,649.1 L886.6,646.1 L889.4,643.2 L892.1,640.3 L894.9,637.3 L897.7,634.4 L900.5,631.6 L903.3,628.7 L906.2,625.8 L909.1,623.0 L912.0,620.2 L914.9,617.4 L917.9,614.6 L920.8,611.9 L923.9,609.2 L926.9,606.5 L930.0,603.9 L933.1,601.4 L936.3,598.9 L939.6,596.5 L942.9,594.3 L946.2,592.1 L949.7,590.0 L953.2,588.0 L956.7,586.1 L960.4,584.4 L964.1,582.8 L967.9,581.3 L971.8,580.0 L975.7,578.9 L979.7,577.9 L983.7,577.2 L987.7,576.7 L991.8,576.4 L995.8,576.3 L999.8,576.5 L1003.7,577.0 L1007.6,577.7 L1011.5,578.6 L1015.2,579.8 L1018.9,581.2 L1022.4,582.9 L1025.8,584.7 L1029.1,586.8 L1032.3,589.0 L1035.2,591.5 L1038.0,594.1 L1040.7,596.9 L1043.2,599.8 L1045.5,603.0 L1047.7,606.2 L1049.8,609.6 L1051.8,613.1 L1053.7,616.6 L1055.4,620.3 L1057.1,624.1 L1058.7,627.9 L1060.3,631.8 L1061.7,635.7 L1063.1,639.7 L1064.5,643.6 L1065.8,647.6 L1067.1,651.6 L1068.4,655.5 L1069.7,659.5 L1071.0,663.4 L1072.2,667.2 L1073.5,671.1 L1074.7,674.9 L1075.9,678.7 L1077.2,682.5 L1078.4,686.3 L1079.6,690.0 L1080.8,693.8 L1082.0,697.6 L1083.2,701.4 L1084.3,705.2 L1085.5,709.0 L1086.6,712.8 L1087.8,716.7 L1088.9,720.5 L1090.0,724.3 L1091.1,728.1 L1092.2,732.0 L1093.3,735.8 L1094.4,739.7 L1095.5,743.5 L1096.5,747.4 L1097.6,751.2 L1098.6,755.1 L1099.6,759.0 L1100.7,762.8 L1101.7,766.7 L1102.7,770.6 L1103.6,774.5 L1104.6,778.4 L1105.6,782.3 L1106.5,786.2 L1107.5,790.1 L1108.4,794.0 L1109.3,797.9 L1110.2,801.8 L1111.1,805.7 L1112.0,809.6 L1112.9,813.6 L1113.7,817.5 L1114.6,821.4 L1115.4,825.3 L1116.3,829.3 L1117.1,833.2 L1117.9,837.2 L1118.7,841.1 L1119.5,845.1 L1120.2,849.0 L1121.0,853.0 L1121.7,856.9 L1122.5,860.9 L1123.2,864.8 L1123.9,868.8 L1124.6,872.8 L1125.3,876.7 L1126.0,880.7 L1126.6,884.7 L1127.3,888.6 L1127.9,892.6 L1128.5,896.6 L1129.1,900.6 L1129.7,904.6 L1130.3,908.5 L1130.9,912.5 L1131.5,916.5 L1132.0,920.5 L1132.5,924.5 L1133.1,928.5 L1133.6,932.5 L1134.1,936.5 L1134.6,940.5 L1135.0,944.5 L1135.5,948.5 L1135.9,952.4 L1136.4,956.4 L1136.8,960.4 L1137.2,964.4 L1137.6,968.4 L1138.0,972.5 L1138.3,976.5 L1138.7,980.5 L1139.0,984.5 L1139.3,988.5 L1139.6,992.5 L1139.9,996.5 L1140.2,1000.5 L1140.5,1004.5 L1140.7,1008.5 L1141.0,1012.5 L1141.2,1016.5 L1141.4,1020.5 L1141.6,1024.5 L1141.8,1028.5 L1142.0,1032.5 L1142.2,1036.5 L1142.3,1040.5 L1142.5,1044.5 L1142.6,1048.5 L1142.7,1052.5 L1142.9,1056.5 L1143.0,1060.5 L1143.1,1064.6 L1143.2,1068.6 L1143.2,1072.6 L1143.3,1076.6 L1143.4,1080.6 L1143.4,1084.6 L1143.5,1088.6 L1143.6,1092.6 L1143.6,1096.6 L1143.6,1100.6 L1143.7,1104.6 L1143.7,1108.6 L1143.7,1112.7 L1143.8,1116.7 L1143.8,1120.7 L1143.8,1124.7 L1143.8,1128.7 L1143.8,1132.7 L1143.8,1136.7 L1143.8,1140.7 L1143.8,1144.8 L1143.8,1148.8 L1143.8,1152.8 L1143.9,1156.8 L1143.9,1160.8 L1143.9,1164.8 L1143.9,1168.9 L1143.9,1172.9 L1143.9,1176.9 L1143.9,1180.9 L1143.9,1184.9 L1143.9,1189.0 L1144.0,1193.0 L1144.0,1197.0 L1144.0,1197.0 L1147.4,1199.3 L1150.7,1201.5 L1154.1,1203.7 L1157.5,1206.0 L1160.9,1208.1 L1164.3,1210.3 L1167.7,1212.5 L1171.1,1214.6 L1174.6,1216.7 L1178.0,1218.8 L1181.5,1220.9 L1184.9,1222.9 L1188.4,1224.9 L1191.9,1227.0 L1195.4,1229.0 L1198.9,1230.9 L1202.4,1232.9 L1205.9,1234.8 L1209.5,1236.8 L1213.0,1238.7 L1216.5,1240.6 L1220.1,1242.4 L1223.7,1244.3 L1227.2,1246.1 L1230.8,1248.0 L1234.4,1249.8 L1238.0,1251.6 L1241.6,1253.3 L1245.2,1255.1 L1248.8,1256.9 L1252.4,1258.6 L1256.1,1260.3 L1259.7,1262.0 L1263.4,1263.7 L1267.0,1265.4 L1270.7,1267.0 L1274.3,1268.6 L1278.0,1270.3 L1281.7,1271.9 L1285.4,1273.5 L1289.1,1275.1 L1292.8,1276.6 L1296.5,1278.2 L1300.2,1279.7 L1303.9,1281.3 L1307.6,1282.8 L1311.3,1284.3 L1315.1,1285.8 L1318.8,1287.3 L1322.5,1288.7 L1326.3,1290.2 L1330.0,1291.6 L1333.8,1293.1 L1337.6,1294.5 L1341.3,1295.9 L1345.1,1297.3 L1348.9,1298.7 L1352.7,1300.1 L1356.4,1301.4 L1360.2,1302.8 L1364.0,1304.1 L1367.8,1305.5 L1371.6,1306.8 L1375.4,1308.1 L1379.2,1309.4 L1383.0,1310.7 L1386.8,1312.0 L1390.7,1313.3 L1394.5,1314.6 L1398.3,1315.8 L1402.1,1317.1 L1405.9,1318.3 L1409.8,1319.5 L1413.6,1320.8 L1417.4,1322.0 L1421.3,1323.2 L1425.1,1324.4 L1429.0,1325.6 L1432.8,1326.8 L1436.7,1328.0 L1440.5,1329.2 L1444.4,1330.3 L1448.2,1331.5 L1452.1,1332.6 L1455.9,1333.8 L1459.8,1334.9 L1463.6,1336.1 L1467.5,1337.2 L1471.4,1338.3 L1475.2,1339.4 L1479.1,1340.5 L1483.0,1341.7 L1486.8,1342.8 L1490.7,1343.9 L1494.6,1345.0 L1498.5,1346.0 L1502.3,1347.1 L1506.2,1348.2 L1510.1,1349.3 L1514.0,1350.4 L1517.8,1351.4 L1521.7,1352.5 L1525.6,1353.5 L1529.5,1354.6 L1533.4,1355.6 L1537.3,1356.7 L1541.1,1357.7 L1545.0,1358.7 L1548.9,1359.7 L1552.8,1360.8 L1556.7,1361.8 L1560.6,1362.7 L1564.5,1363.7 L1568.4,1364.7 L1572.3,1365.7 L1576.2,1366.6 L1580.1,1367.6 L1584.0,1368.5 L1587.9,1369.5 L1591.8,1370.4 L1595.8,1371.3 L1599.7,1372.2 L1603.6,1373.1 L1607.5,1373.9 L1611.4,1374.8 L1615.4,1375.6 L1619.3,1376.5 L1623.2,1377.3 L1627.2,1378.1 L1631.1,1378.9 L1635.0,1379.7 L1639.0,1380.5 L1642.9,1381.3 L1646.8,1382.1 L1650.8,1382.8 L1654.7,1383.6 L1658.7,1384.3 L1662.6,1385.1 L1666.6,1385.8 L1670.5,1386.5 L1674.5,1387.2 L1678.5,1387.9 L1682.4,1388.6 L1686.4,1389.3 L1690.3,1389.9 L1694.3,1390.6 L1698.3,1391.3 L1702.2,1391.9 L1706.2,1392.6 L1710.2,1393.2 L1714.1,1393.9 L1718.1,1394.5 L1722.1,1395.1 L1726.0,1395.7 L1730.0,1396.3 L1734.0,1397.0 L1738.0,1397.6 L1741.9,1398.2 L1745.9,1398.8 L1749.9,1399.4 L1753.9,1400.0 L1757.9,1400.5 L1761.8,1401.1 L1765.8,1401.7 L1769.8,1402.3 L1773.8,1402.9 L1777.8,1403.4 L1781.7,1404.0 L1785.7,1404.6 L1789.7,1405.1 L1793.7,1405.7 L1797.7,1406.3 L1801.6,1406.8 L1805.6,1407.4 L1809.6,1408.0 L1813.6,1408.5 L1817.6,1409.1 L1821.6,1409.7 L1825.5,1410.2 L1829.5,1410.8 L1833.5,1411.3 L1837.5,1411.9 L1841.5,1412.4 L1845.5,1413.0 L1849.4,1413.5 L1853.4,1414.1 L1857.4,1414.6 L1861.4,1415.2 L1865.4,1415.7 L1869.4,1416.3 L1873.4,1416.8 L1877.3,1417.4 L1881.3,1417.9 L1885.3,1418.4 L1889.3,1419.0 L1893.3,1419.5 L1897.3,1420.1 L1901.3,1420.6 L1905.2,1421.1 L1909.2,1421.6 L1913.2,1422.2 L1917.2,1422.7 L1921.2,1423.2 L1925.2,1423.7 L1929.2,1424.2 L1933.2,1424.8 L1937.1,1425.3 L1941.1,1425.8 L1945.1,1426.3 L1949.1,1426.8 L1953.1,1427.3 L1957.1,1427.8 L1961.1,1428.3 L1965.1,1428.8 L1969.1,1429.3 L1973.1,1429.8 L1977.1,1430.3 L1981.0,1430.7 L1985.0,1431.2 L1989.0,1431.7 L1993.0,1432.2 L1997.0,1432.6 L2001.0,1433.1 L2005.0,1433.6 L2009.0,1434.0 L2013.0,1434.5 L2017.0,1435.0 L2021.0,1435.4 L2025.0,1435.9 L2029.0,1436.3 L2033.0,1436.7 L2037.0,1437.2 L2041.0,1437.6 L2045.0,1438.1 L2049.0,1438.5 L2053.0,1438.9 L2057.0,1439.3 L2061.0,1439.8 L2065.0,1440.2 L2069.0,1440.6 L2073.0,1441.0 L2077.0,1441.4 L2081.0,1441.8 L2085.0,1442.2 L2089.0,1442.6 L2093.0,1443.0 L2097.0,1443.3 L2101.0,1443.7 L2105.0,1444.1 L2109.0,1444.5 L2113.0,1444.8 L2117.0,1445.2 L2121.0,1445.5 L2125.0,1445.9" stroke="#4dbeee" stroke-width="17.8" fill="none" stroke-linejoin="round" stroke-linecap="butt"/>
<text transform="translate(218.4,1586.6) scale(1.05,1)" font-family="'Liberation Serif', 'Times New Roman', serif" font-size="80" fill="#262626">0</text>
<text transform="translate(155.7,1371.1) scale(0.95,1)" font-family="'Liberation Serif', 'Times New Roman', serif" font-size="80" fill="#262626">0.1</text>
<text transform="translate(155.7,1155.6) scale(0.95,1)" font-family="'Liberation Serif', 'Times New Roman', serif" font-size="80" fill="#262626">0.2</text>
<text transform="translate(155.7,940.1) scale(0.95,1)" font-family="'Liberation Serif', 'Times New Roman', serif" font-size="80" fill="#262626">0.3</text>
<text transform="translate(155.7,724.6) scale(0.95,1)" font-family="'Liberation Serif', 'Times New Roman', serif" font-size="80" fill="#262626">0.4</text>
<text transform="translate(155.7,509.1) scale(0.95,1)" font-family="'Liberation Serif', 'Times New Roman', serif" font-size="80" fill="#262626">0.5</text>
<text transform="translate(155.7,293.6) scale(0.95,1)" font-family="'Liberation Serif', 'Times New Roman', serif" font-size="80" fill="#262626">0.6</text>
<text transform="translate(155.7,78.1) scale(0.95,1)" font-family="'Liberation Serif', 'Times New Roman', serif" font-size="80" fill="#262626">0.7</text>
<text transform="translate(271.8,1668.6) scale(1.05,1)" font-family="'Liberation Serif', 'Times New Roman', serif" font-size="80" fill="#262626">0</text>
<text transform="translate(563.9,1668.6) scale(0.95,1)" font-family="'Liberation Serif', 'Times New Roman', serif" font-size="80" fill="#262626">0.002</text>
<text transform="translate(929.2,1668.6) scale(0.95,1)" font-family="'Liberation Serif', 'Times New Roman', serif" font-size="80" fill="#262626">0.004</text>
<text transform="translate(1295.0,1668.6) scale(0.95,1)" font-family="'Liberation Serif', 'Times New Roman', serif" font-size="80" fill="#262626">0.006</text>
<text transform="translate(1662.5,1668.6) scale(0.95,1)" font-family="'Liberation Serif', 'Times New Roman', serif" font-size="80" fill="#262626">0.008</text>
<text transform="translate(2049.7,1668.6) scale(0.95,1)" font-family="'Liberation Serif', 'Times New Roman', serif" font-size="80" fill="#262626">0.01</text>
<text transform="translate(643.6,1761.5) scale(0.9956,1)" font-family="'Latin Modern Roman', 'LM Roman 10', 'Liberation Serif', serif" font-weight="bold" font-size="83" textLength="1141.4" lengthAdjust="spacingAndGlyphs" fill="#262626">Vertical displacement [mm]</text>
<text transform="translate(102.8,1169.8) rotate(-90) scale(0.997,1)" font-family="'Latin Modern Roman', 'LM Roman 10', 'Liberation Serif', serif" font-weight="bold" font-size="83" textLength="743.1" lengthAdjust="spacingAndGlyphs" fill="#262626">Applied load [kN]</text>
<rect x="1583.0" y="158.4" width="474.7" height="524.6" fill="#fff" stroke="#262626" stroke-width="5.6"/>
<path d="M1607.1,210.8 H1857.9" stroke="#0072bd" stroke-width="17.8"/>
<path d="M1607.1,294.8 H1857.9" stroke="#d95319" stroke-width="17.8"/>
<path d="M1607.1,378.8 H1857.9" stroke="#edb120" stroke-width="17.8"/>
<path d="M1607.1,462.8 H1857.9" stroke="#7e2f8e" stroke-width="17.8"/>
<path d="M1607.1,546.8 H1857.9" stroke="#77ac30" stroke-width="17.8"/>
<path d="M1607.1,630.8 H1857.9" stroke="#4dbeee" stroke-width="17.8"/>
<text transform="translate(1874.9,227.9) scale(0.985,1)" font-family="'Latin Modern Roman', 'LM Roman 10', 'Liberation Serif', serif" font-size="70" textLength="128.37" lengthAdjust="spacingAndGlyphs" fill="#000" stroke="#000" stroke-width="0.9">p=1</text>
<text transform="translate(1874.9,311.9) scale(0.985,1)" font-family="'Latin Modern Roman', 'LM Roman 10', 'Liberation Serif', serif" font-size="70" textLength="128.37" lengthAdjust="spacingAndGlyphs" fill="#000" stroke="#000" stroke-width="0.9">p=2</text>
<text transform="translate(1874.9,395.9) scale(0.985,1)" font-family="'Latin Modern Roman', 'LM Roman 10', 'Liberation Serif', serif" font-size="70" textLength="128.37" lengthAdjust="spacingAndGlyphs" fill="#000" stroke="#000" stroke-width="0.9">p=4</text>
<text transform="translate(1874.9,479.9) scale(0.985,1)" font-family="'Latin Modern Roman', 'LM Roman 10', 'Liberation Serif', serif" font-size="70" textLength="128.37" lengthAdjust="spacingAndGlyphs" fill="#000" stroke="#000" stroke-width="0.9">p=8</text>
<text transform="translate(1874.9,563.9) scale(0.985,1)" font-family="'Latin Modern Roman', 'LM Roman 10', 'Liberation Serif', serif" font-size="70" textLength="163.36" lengthAdjust="spacingAndGlyphs" fill="#000" stroke="#000" stroke-width="0.9">p=16</text>
<text transform="translate(1874.9,647.9) scale(0.985,1)" font-family="'Latin Modern Roman', 'LM Roman 10', 'Liberation Serif', serif" font-size="70" textLength="163.36" lengthAdjust="spacingAndGlyphs" fill="#000" stroke="#000" stroke-width="0.9">p=32</text>
</svg></body></html>
